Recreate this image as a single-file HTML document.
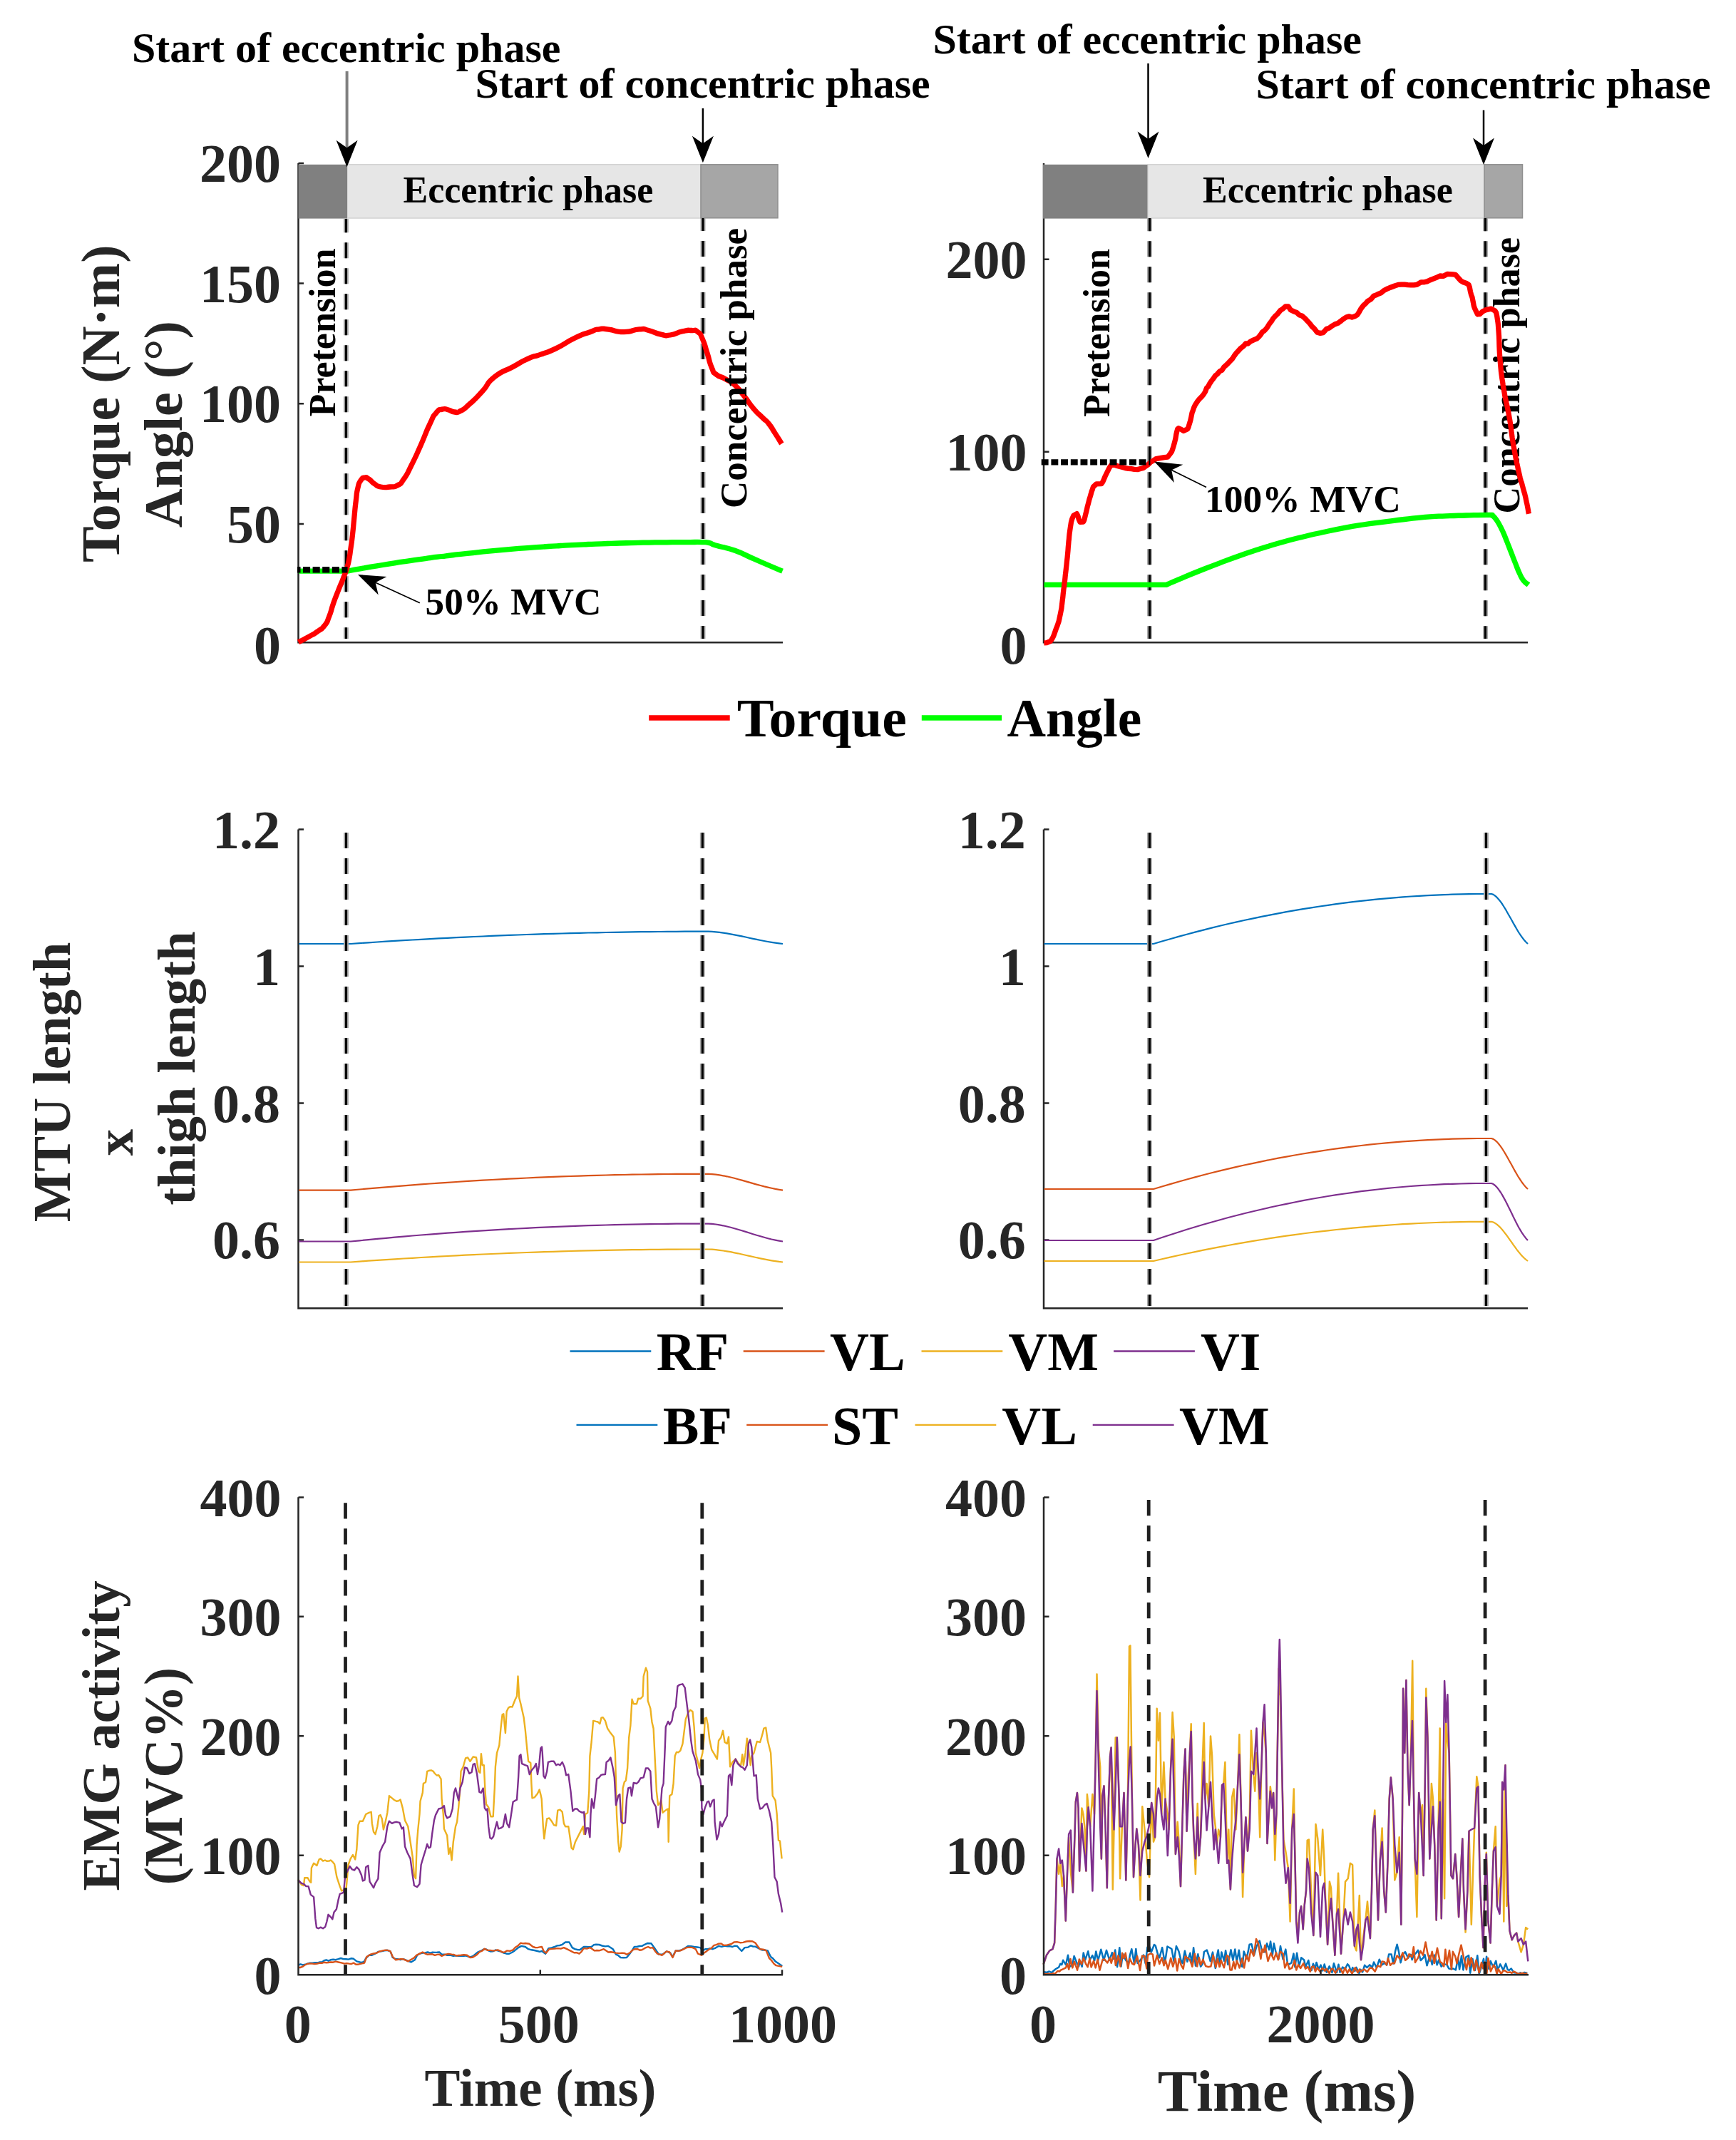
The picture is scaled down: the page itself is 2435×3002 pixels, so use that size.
<!DOCTYPE html>
<html lang="en"><head><meta charset="utf-8"><title>Figure</title>
<style>html,body{margin:0;padding:0;background:#fff}svg{display:block}</style></head>
<body>
<svg width="2435" height="3002" viewBox="0 0 2435 3002" font-family="'Liberation Serif','Times New Roman',serif" font-weight="bold">
<rect width="2435" height="3002" fill="#fff"/>
<rect x="487" y="230.8" width="496" height="75.2" fill="#e6e6e6" stroke="#d2d2d2" stroke-width="1.5"/>
<rect x="983" y="230.8" width="108" height="75" fill="#a6a6a6" stroke="#8f8f8f" stroke-width="1.5"/>
<path d="M418.5,228.9 V901.3 H1098" fill="none" stroke="#262626" stroke-width="2.5"/>
<path d="M418.5,735.0 h7.5 M418.5,566.3 h7.5 M418.5,397.6 h7.5 M418.5,228.89999999999998 h7.5 " fill="none" stroke="#262626" stroke-width="2.5"/>
<rect x="418.5" y="230.8" width="68.5" height="75.8" fill="#808080"/>
<text x="394" y="761.0" font-size="76" text-anchor="end" fill="#262626">50</text>
<text x="394" y="592.3" font-size="76" text-anchor="end" fill="#262626">100</text>
<text x="394" y="423.6" font-size="76" text-anchor="end" fill="#262626">150</text>
<text x="394" y="254.9" font-size="76" text-anchor="end" fill="#262626">200</text>
<text x="394" y="930.5" font-size="76" text-anchor="end" fill="#262626">0</text>
<line x1="485.4" y1="307" x2="485.4" y2="896" stroke="#ababab" stroke-width="6.9" stroke-dasharray="22 14" stroke-dashoffset="2.7"/>
<line x1="485.4" y1="307" x2="485.4" y2="896" stroke="#000" stroke-width="3.1" stroke-dasharray="22 14" stroke-dashoffset="2.7"/>
<line x1="986" y1="306" x2="986" y2="896" stroke="#ababab" stroke-width="6.9" stroke-dasharray="22 14" stroke-dashoffset="4.0"/>
<line x1="986" y1="306" x2="986" y2="896" stroke="#000" stroke-width="3.1" stroke-dasharray="22 14" stroke-dashoffset="4.0"/>
<path d="M419.0,801.2 L487.0,801.2 L487.0,801.2 C491.4,800.4 494.7,799.7 503.6,798.2 C512.5,796.6 511.3,796.8 520.2,795.2 C529.1,793.7 527.9,793.9 536.8,792.5 C545.7,791.0 544.5,791.2 553.4,789.8 C562.3,788.4 561.1,788.6 570.0,787.3 C578.9,786.0 577.7,786.1 586.6,784.9 C595.5,783.6 594.3,783.8 603.2,782.6 C612.1,781.4 610.9,781.6 619.8,780.5 C628.7,779.4 627.5,779.5 636.4,778.5 C645.3,777.4 644.1,777.5 653.0,776.6 C661.9,775.6 660.7,775.7 669.6,774.8 C678.5,773.9 677.3,774.0 686.2,773.1 C695.1,772.3 693.9,772.4 702.8,771.6 C711.7,770.8 710.5,770.9 719.4,770.1 C728.3,769.4 727.1,769.5 736.0,768.8 C744.9,768.1 743.7,768.2 752.6,767.6 C761.5,767.0 760.3,767.1 769.2,766.5 C778.1,765.9 776.9,766.0 785.8,765.5 C794.7,765.0 793.5,765.0 802.4,764.6 C811.3,764.1 810.1,764.2 819.0,763.8 C827.9,763.4 826.7,763.4 835.6,763.1 C844.5,762.8 843.3,762.8 852.2,762.5 C861.1,762.2 859.9,762.2 868.8,762.0 C877.7,761.7 876.5,761.8 885.4,761.6 C894.3,761.3 893.1,761.4 902.0,761.2 C910.9,761.0 909.7,761.1 918.6,760.9 C927.5,760.8 926.3,760.8 935.2,760.8 C944.1,760.7 942.9,760.7 951.8,760.6 C960.7,760.6 959.5,760.6 968.4,760.6 C977.3,760.5 977.9,760.3 985.0,760.6 C992.1,760.8 989.7,760.3 995.0,761.6 C1000.3,762.8 995.3,762.4 1004.8,765.3 C1014.3,768.1 1017.0,767.4 1030.8,772.3 C1044.6,777.2 1044.4,778.4 1056.7,783.7 C1069.0,789.1 1066.1,787.8 1077.0,792.5 C1087.9,797.1 1092.0,798.9 1097.5,801.2" fill="none" stroke="#00ff00" stroke-width="7.3" stroke-linejoin="round"/>
<path d="M418.5,900.8 C423.6,898.2 424.6,898.0 433.7,892.9 C442.8,887.8 438.5,890.9 445.8,885.6 C453.1,880.3 450.2,884.0 455.5,877.1 C460.8,870.2 457.7,874.7 461.6,865.0 C465.5,855.3 463.5,858.5 467.1,848.0 C470.7,837.5 469.1,842.3 472.5,833.4 C475.9,824.5 474.1,829.3 477.4,821.2 C480.7,813.1 479.3,817.2 482.3,809.1 C485.3,801.0 484.1,805.0 486.5,796.9 C488.9,788.8 487.8,794.1 489.6,784.8 C491.4,775.5 490.4,780.3 492.0,769.0 C493.6,757.7 492.8,765.0 494.4,750.8 C496.0,736.6 495.2,742.7 496.8,726.5 C498.4,710.3 497.6,716.0 499.3,702.2 C501.0,688.4 499.6,694.3 501.8,685.0 C504.0,675.7 502.6,679.3 505.8,674.3 C509.1,669.3 507.6,670.7 511.5,670.0 C515.3,669.3 512.9,669.3 517.5,672.2 C522.1,675.1 519.8,675.1 525.3,678.7 C530.8,682.3 526.7,681.5 533.9,683.0 C541.1,684.4 539.0,683.7 546.9,683.0 C554.8,682.3 551.2,684.4 557.7,680.8 C564.2,677.2 559.8,681.5 566.3,672.2 C572.8,662.8 569.2,668.6 577.1,652.7 C585.0,636.9 581.4,644.1 590.1,624.7 C598.7,605.2 595.8,609.5 603.1,594.4 C610.3,579.3 605.9,586.1 611.7,579.3 C617.5,572.5 614.6,575.5 620.3,574.1 C626.1,572.7 623.2,573.7 629.0,575.0 C634.7,576.3 631.9,577.6 637.6,578.0 C643.4,578.4 639.1,580.2 646.3,576.3 C653.5,572.4 649.1,575.4 659.2,566.3 C669.3,557.3 665.0,561.6 676.5,549.0 C688.0,536.5 679.4,540.3 693.8,528.7 C708.2,517.2 703.9,523.1 719.7,514.5 C735.5,505.8 728.3,508.6 741.3,502.8 C754.3,497.1 745.6,502.0 758.6,497.2 C771.5,492.5 764.3,496.2 780.2,488.6 C796.0,480.9 790.3,481.9 806.1,474.3 C821.9,466.7 816.2,469.8 827.7,465.7 C839.2,461.5 832.0,462.9 840.7,461.8 C849.3,460.6 842.1,460.9 853.6,462.2 C865.1,463.5 860.8,465.8 875.2,465.7 C889.6,465.5 885.3,462.5 896.8,461.8 C908.3,461.1 899.7,461.1 909.8,463.5 C919.9,466.0 917.0,467.0 927.1,469.1 C937.1,471.3 929.9,471.4 940.0,470.0 C950.1,468.5 947.2,467.0 957.3,464.8 C967.4,462.6 963.1,463.2 970.3,463.5 C977.5,463.8 973.9,461.6 978.9,465.7 C983.9,469.7 981.1,465.8 985.4,475.6 C989.7,485.4 987.5,481.7 991.9,495.0 C996.2,508.4 994.0,505.7 998.3,515.8 C1002.7,525.9 998.3,520.0 1004.8,525.3 C1011.3,530.6 1009.2,526.7 1017.8,531.8 C1026.4,536.8 1022.1,532.5 1030.8,540.4 C1039.4,548.3 1035.1,544.7 1043.7,555.5 C1052.4,566.3 1048.0,562.7 1056.7,572.8 C1065.3,582.9 1062.4,578.6 1069.6,585.8 C1076.8,593.0 1072.5,587.2 1078.3,594.4 C1084.0,601.6 1080.9,598.0 1086.9,607.4 C1093.0,616.7 1093.3,617.5 1096.4,622.5" fill="none" stroke="#ff0000" stroke-width="7.3" stroke-linejoin="round"/>
<line x1="417" y1="799.2" x2="487.5" y2="799.2" stroke="#000" stroke-width="8.6" stroke-dasharray="10.1 3.5" stroke-dashoffset="5.6"/>
<text x="565.5" y="284" font-size="52" text-anchor="start" fill="#000">Eccentric phase</text>
<text x="469.5" y="584.5" font-size="52" text-anchor="start" fill="#000" transform="rotate(-90 469.5 584.5)">Pretension</text>
<text x="1046.5" y="713" font-size="53" text-anchor="start" fill="#000" transform="rotate(-90 1046.5 713)">Concentric phase</text>
<line x1="588.8" y1="845.7" x2="520.2" y2="814.3" stroke="#000" stroke-width="1.8"/>
<path d="M502.0,806.0 L542.4,809.1 L526.6,817.2 L530.7,834.5 Z" fill="#000"/>
<text x="596.6" y="862" font-size="53.2" text-anchor="start" fill="#000">50% MVC</text>
<text x="185" y="86.5" font-size="60" text-anchor="start" fill="#000">Start of eccentric phase</text>
<text x="666.5" y="137.2" font-size="60" text-anchor="start" fill="#000">Start of concentric phase</text>
<line x1="486.6" y1="100" x2="486.6" y2="214.3" stroke="#808080" stroke-width="4"/>
<path d="M486.6,234.3 L471.6,196.8 L486.6,207.3 L501.6,196.8 Z" fill="#000"/>
<line x1="985.9" y1="152" x2="985.9" y2="208.2" stroke="#000" stroke-width="2.5"/>
<path d="M985.9,228.2 L970.9,190.7 L985.9,201.2 L1000.9,190.7 Z" fill="#000"/>
<text x="167" y="566.3" font-size="76" text-anchor="middle" fill="#262626" transform="rotate(-90 167 566.3)">Torque (N·m)</text>
<text x="255.3" y="595.2" font-size="76" text-anchor="middle" fill="#262626" transform="rotate(-90 255.3 595.2)">Angle (°)</text>
<rect x="1610" y="230.8" width="472" height="75.2" fill="#e6e6e6" stroke="#d2d2d2" stroke-width="1.5"/>
<rect x="2082" y="230.8" width="53.5" height="75" fill="#a6a6a6" stroke="#8f8f8f" stroke-width="1.5"/>
<path d="M1464,228.9 V901.3 H2143" fill="none" stroke="#262626" stroke-width="2.5"/>
<path d="M1464,633.8 h7.5 M1464,363.79999999999995 h7.5 " fill="none" stroke="#262626" stroke-width="2.5"/>
<rect x="1463" y="230.8" width="146.5" height="75.8" fill="#808080"/>
<text x="1440.4" y="659.8" font-size="76" text-anchor="end" fill="#262626">100</text>
<text x="1440.4" y="389.8" font-size="76" text-anchor="end" fill="#262626">200</text>
<text x="1440.4" y="930.5" font-size="76" text-anchor="end" fill="#262626">0</text>
<line x1="1612.5" y1="306" x2="1612.5" y2="896" stroke="#ababab" stroke-width="6.9" stroke-dasharray="22 14" stroke-dashoffset="3.8"/>
<line x1="1612.5" y1="306" x2="1612.5" y2="896" stroke="#000" stroke-width="3.1" stroke-dasharray="22 14" stroke-dashoffset="3.8"/>
<line x1="2083.5" y1="306" x2="2083.5" y2="896" stroke="#ababab" stroke-width="6.9" stroke-dasharray="22 14" stroke-dashoffset="3.8"/>
<line x1="2083.5" y1="306" x2="2083.5" y2="896" stroke="#000" stroke-width="3.1" stroke-dasharray="22 14" stroke-dashoffset="3.8"/>
<text x="1687" y="284" font-size="52" text-anchor="start" fill="#000">Eccentric phase</text>
<text x="1555.5" y="585" font-size="52" text-anchor="start" fill="#000" transform="rotate(-90 1555.5 585)">Pretension</text>
<text x="2130.7" y="720.5" font-size="52.3" text-anchor="start" fill="#000" transform="rotate(-90 2130.7 720.5)">Concentric phase</text>
<path d="M1464.5,820.3 L1636.0,820.3 L1636.0,820.3 C1640.6,818.3 1640.9,817.9 1653.2,812.8 C1665.5,807.7 1666.6,807.1 1682.0,801.0 C1697.4,794.9 1695.4,795.6 1710.8,789.8 C1726.2,784.0 1724.2,784.6 1739.6,779.2 C1755.0,773.8 1753.1,774.5 1768.4,769.6 C1783.7,764.7 1781.6,765.3 1797.0,761.0 C1812.4,756.7 1810.5,757.3 1826.0,753.5 C1841.5,749.7 1839.6,750.2 1855.0,746.8 C1870.4,743.4 1868.4,743.7 1883.6,740.8 C1898.8,737.9 1896.6,738.3 1912.0,736.0 C1927.4,733.7 1925.7,734.2 1941.2,732.2 C1956.7,730.2 1954.6,730.3 1970.0,728.5 C1985.4,726.7 1983.3,726.6 1998.8,725.3 C2014.3,724.0 2012.6,724.4 2028.0,723.8 C2043.4,723.2 2040.5,723.4 2056.5,723.0 C2072.5,722.6 2078.3,722.3 2088.0,722.4 C2097.7,722.5 2090.7,722.4 2093.0,723.5 C2095.3,724.6 2094.4,723.6 2096.8,726.4 C2099.2,729.2 2098.9,728.6 2102.0,734.0 C2105.1,739.4 2105.1,739.5 2108.3,746.6 C2111.5,753.7 2110.9,752.8 2114.0,760.5 C2117.1,768.2 2116.7,767.5 2119.8,775.4 C2122.9,783.3 2122.4,782.3 2125.5,790.0 C2128.6,797.7 2128.2,797.7 2131.3,804.2 C2134.4,810.7 2133.6,810.2 2137.0,814.5 C2140.4,818.8 2142.1,818.8 2144.0,820.3" fill="none" stroke="#00ff00" stroke-width="7.3" stroke-linejoin="round"/>
<path d="M1464.3,901.9 L1468.3,901.6 L1473.5,899.4 L1476.3,895.2 L1478.0,891.6 L1480.4,884.7 L1481.9,880.6 L1483.0,878.0 L1484.1,874.6 L1485.1,871.7 L1486.1,867.1 L1487.3,861.4 L1488.2,857.1 L1488.9,853.5 L1489.4,849.2 L1489.8,845.8 L1490.2,842.4 L1490.7,838.6 L1491.2,833.3 L1491.9,827.1 L1492.5,822.9 L1493.0,817.8 L1493.5,815.0 L1493.9,811.1 L1494.2,807.7 L1494.6,804.4 L1495.0,801.0 L1495.4,797.5 L1496.0,792.1 L1496.5,787.0 L1497.1,781.8 L1497.6,776.6 L1498.0,772.2 L1498.3,767.5 L1498.7,763.4 L1499.0,759.6 L1499.4,756.3 L1499.7,752.3 L1500.1,748.4 L1500.6,744.9 L1501.2,740.8 L1502.5,732.4 L1503.5,728.7 L1504.4,726.4 L1505.8,723.3 L1510.4,720.7 L1512.0,724.0 L1513.3,728.8 L1515.0,732.4 L1519.6,732.0 L1520.8,729.4 L1521.9,724.9 L1522.8,721.2 L1523.9,717.0 L1525.1,711.4 L1526.5,706.3 L1527.9,700.6 L1529.1,696.8 L1530.2,693.1 L1531.1,689.6 L1532.2,686.8 L1533.4,683.0 L1538.0,678.8 L1544.9,678.7 L1547.0,675.6 L1548.6,671.8 L1550.2,668.0 L1552.4,663.5 L1555.2,657.8 L1557.2,654.3 L1559.9,651.1 L1566.8,653.5 L1571.7,654.8 L1578.3,656.6 L1582.9,657.4 L1587.0,657.7 L1591.0,658.3 L1595.6,658.6 L1600.6,657.3 L1603.7,656.4 L1607.1,654.1 L1611.0,651.2 L1614.1,648.2 L1617.4,646.3 L1621.5,643.7 L1627.2,642.7 L1633.1,641.6 L1637.9,641.1 L1641.7,636.1 L1643.6,633.4 L1644.8,630.0 L1645.9,626.5 L1647.5,620.7 L1648.8,615.7 L1649.8,609.4 L1650.7,605.5 L1651.7,601.9 L1653.2,600.7 L1656.7,602.3 L1660.1,604.6 L1665.9,601.7 L1667.1,598.8 L1668.1,595.3 L1669.1,592.2 L1670.1,588.6 L1671.1,583.6 L1672.1,578.8 L1673.3,575.8 L1674.7,571.6 L1676.3,568.2 L1679.5,563.3 L1681.9,560.1 L1684.4,557.7 L1687.8,553.9 L1690.5,549.6 L1692.6,544.0 L1694.5,542.5 L1696.6,538.3 L1699.3,534.4 L1702.5,530.2 L1704.8,526.9 L1707.2,525.0 L1710.8,520.9 L1714.0,519.2 L1716.6,515.2 L1719.0,512.9 L1721.7,510.5 L1725.2,506.7 L1728.7,503.1 L1731.3,499.0 L1733.6,495.8 L1736.2,493.0 L1739.6,489.2 L1744.0,485.7 L1747.3,482.0 L1750.5,482.0 L1754.0,479.0 L1758.4,476.9 L1762.7,475.2 L1765.6,472.6 L1768.1,469.7 L1770.6,465.8 L1773.5,463.9 L1777.1,459.9 L1780.6,454.2 L1783.3,450.8 L1785.7,446.8 L1788.3,443.8 L1791.5,440.9 L1796.0,435.4 L1799.0,433.5 L1803.0,430.0 L1807.2,430.0 L1810.3,434.7 L1814.5,436.8 L1818.8,438.4 L1822.2,441.7 L1826.0,442.9 L1830.6,446.8 L1834.7,451.2 L1837.8,454.7 L1840.2,458.0 L1843.3,460.8 L1847.6,466.2 L1852.0,467.5 L1856.0,466.7 L1860.6,461.5 L1864.5,460.1 L1867.8,457.6 L1872.1,455.0 L1876.5,453.4 L1879.8,451.1 L1883.6,448.0 L1888.2,445.0 L1892.3,443.8 L1896.3,445.1 L1900.9,443.5 L1903.9,441.6 L1906.2,438.0 L1908.8,433.2 L1912.4,428.5 L1915.6,425.6 L1918.2,422.6 L1920.6,421.2 L1923.3,419.4 L1926.8,415.2 L1931.0,413.6 L1934.0,412.1 L1937.1,410.8 L1941.2,407.5 L1946.5,404.8 L1950.4,403.2 L1955.6,401.3 L1961.2,399.4 L1965.4,399.2 L1970.0,399.1 L1974.4,399.7 L1978.7,399.8 L1983.2,399.8 L1987.3,399.4 L1993.1,395.9 L1997.9,395.8 L2001.7,394.9 L2005.6,393.0 L2010.4,391.2 L2016.0,388.8 L2019.8,387.0 L2024.8,387.3 L2030.0,384.5 L2033.9,384.6 L2038.0,384.9 L2041.6,385.3 L2044.9,389.2 L2049.0,393.8 L2052.9,396.1 L2056.5,397.2 L2060.0,399.3 L2061.3,403.0 L2062.4,408.8 L2063.5,413.2 L2065.0,417.1 L2066.4,424.3 L2067.3,429.1 L2068.3,432.2 L2069.8,435.3 L2072.5,441.0 L2075.7,440.6 L2079.5,437.0 L2083.6,434.9 L2091.4,433.1 L2097.0,436.0 L2098.7,438.7 L2099.8,443.9 L2100.4,448.2 L2100.9,451.4 L2101.3,454.5 L2101.7,459.6 L2102.2,466.9 L2102.5,471.4 L2102.7,475.9 L2102.8,479.4 L2102.9,483.4 L2103.0,486.9 L2103.2,491.7 L2103.4,495.6 L2103.7,500.7 L2104.2,506.5 L2104.7,512.4 L2105.1,516.6 L2105.5,521.1 L2105.9,524.3 L2106.4,527.8 L2106.9,531.5 L2107.5,535.0 L2108.2,540.1 L2109.1,545.4 L2110.0,550.3 L2110.8,555.4 L2111.5,558.5 L2112.3,562.2 L2113.0,565.6 L2113.7,568.6 L2114.4,571.7 L2115.2,575.7 L2116.1,580.0 L2117.0,585.3 L2117.9,590.2 L2118.7,595.3 L2119.2,599.0 L2119.7,602.6 L2120.1,606.6 L2120.6,610.0 L2121.1,614.0 L2121.9,618.9 L2122.8,624.6 L2123.7,629.3 L2124.5,633.9 L2125.2,637.7 L2125.9,641.3 L2126.6,644.9 L2127.2,648.0 L2128.0,651.4 L2128.8,655.0 L2129.7,659.4 L2130.7,663.7 L2132.1,669.9 L2133.3,674.5 L2134.4,677.4 L2135.3,680.9 L2136.3,684.6 L2137.3,688.4 L2138.6,692.6 L2139.9,698.0 L2140.9,703.1 L2141.8,706.9 L2142.6,710.9 L2143.2,714.1 L2143.8,717.7 L2144.4,720.7" fill="none" stroke="#ff0000" stroke-width="7.3" stroke-linejoin="round"/>
<line x1="1460.7" y1="648.4" x2="1613.4" y2="648.4" stroke="#000" stroke-width="8.4" stroke-dasharray="9.9 3.8"/>
<line x1="1692.0" y1="683.5" x2="1636.9" y2="656.3" stroke="#000" stroke-width="1.8"/>
<path d="M1619.0,647.5 L1659.3,651.8 L1643.2,659.4 L1646.9,676.9 Z" fill="#000"/>
<text x="1690" y="717.9" font-size="53.5" text-anchor="start" fill="#000">100% MVC</text>
<text x="1308.5" y="74.5" font-size="60" text-anchor="start" fill="#000">Start of eccentric phase</text>
<text x="1761.5" y="138" font-size="60" text-anchor="start" fill="#000">Start of concentric phase</text>
<line x1="1610.5" y1="89" x2="1610.5" y2="202" stroke="#000" stroke-width="2.5"/>
<path d="M1610.5,222 L1595.5,184.5 L1610.5,195 L1625.5,184.5 Z" fill="#000"/>
<line x1="2081" y1="154.5" x2="2081" y2="211" stroke="#000" stroke-width="2.5"/>
<path d="M2081,231 L2066,193.5 L2081,204 L2096,193.5 Z" fill="#000"/>
<line x1="910.2" y1="1007" x2="1023.7" y2="1007" stroke="#ff0000" stroke-width="7.3"/>
<text x="1033.8" y="1032.6" font-size="76" text-anchor="start" fill="#000" textLength="238" lengthAdjust="spacingAndGlyphs">Torque</text>
<line x1="1292.8" y1="1007" x2="1405.1" y2="1007" stroke="#00ff00" stroke-width="7.3"/>
<text x="1412.5" y="1032.6" font-size="75.5" text-anchor="start" fill="#000">Angle</text>
<path d="M418.5,1163.6 V1835.2 H1098" fill="none" stroke="#262626" stroke-width="2.5"/>
<path d="M418.5,1739.42 h7.5 M418.5,1547.4799999999998 h7.5 M418.5,1355.54 h7.5 M418.5,1163.6 h7.5 " fill="none" stroke="#262626" stroke-width="2.5"/>
<text x="393" y="1765.4" font-size="76" text-anchor="end" fill="#262626">0.6</text>
<text x="393" y="1573.5" font-size="76" text-anchor="end" fill="#262626">0.8</text>
<text x="393" y="1381.5" font-size="76" text-anchor="end" fill="#262626">1</text>
<text x="393" y="1189.6" font-size="76" text-anchor="end" fill="#262626">1.2</text>
<path d="M419.0,1324.0 L492.0,1324.0 L504.3,1323.1 L516.7,1322.3 L529.0,1321.5 L541.4,1320.7 L553.7,1319.9 L566.0,1319.2 L578.4,1318.5 L590.7,1317.8 L603.0,1317.1 L615.4,1316.4 L627.7,1315.8 L640.0,1315.2 L652.4,1314.6 L664.7,1314.0 L677.1,1313.5 L689.4,1312.9 L701.7,1312.4 L714.1,1311.9 L726.4,1311.5 L738.8,1311.0 L751.1,1310.6 L763.4,1310.2 L775.8,1309.8 L788.1,1309.5 L800.4,1309.1 L812.8,1308.8 L825.1,1308.5 L837.5,1308.3 L849.8,1308.0 L862.1,1307.8 L874.5,1307.6 L886.8,1307.4 L899.1,1307.2 L911.5,1307.1 L923.8,1307.0 L936.2,1306.9 L948.5,1306.8 L960.8,1306.7 L973.2,1306.7 L985.5,1306.7 L993.5,1306.7 L998.7,1306.9 L1004.0,1307.3 L1009.2,1307.9 L1014.4,1308.6 L1019.6,1309.4 L1024.8,1310.3 L1030.1,1311.3 L1035.3,1312.3 L1040.5,1313.4 L1045.8,1314.5 L1051.0,1315.7 L1056.2,1316.8 L1061.4,1317.9 L1066.7,1319.0 L1071.9,1320.0 L1077.1,1321.0 L1082.3,1321.9 L1087.5,1322.7 L1092.8,1323.4 L1098.0,1324.0" fill="none" stroke="#0072bd" stroke-width="2.2" stroke-linejoin="round"/>
<path d="M419.0,1669.6 L492.0,1669.6 L504.3,1668.5 L516.7,1667.4 L529.0,1666.3 L541.4,1665.3 L553.7,1664.3 L566.0,1663.3 L578.4,1662.3 L590.7,1661.4 L603.0,1660.5 L615.4,1659.6 L627.7,1658.8 L640.0,1658.0 L652.4,1657.2 L664.7,1656.4 L677.1,1655.7 L689.4,1655.0 L701.7,1654.3 L714.1,1653.7 L726.4,1653.1 L738.8,1652.5 L751.1,1651.9 L763.4,1651.4 L775.8,1650.9 L788.1,1650.4 L800.4,1650.0 L812.8,1649.6 L825.1,1649.2 L837.5,1648.9 L849.8,1648.5 L862.1,1648.2 L874.5,1648.0 L886.8,1647.7 L899.1,1647.5 L911.5,1647.3 L923.8,1647.2 L936.2,1647.0 L948.5,1646.9 L960.8,1646.9 L973.2,1646.8 L985.5,1646.8 L993.5,1646.8 L998.7,1647.1 L1004.0,1647.7 L1009.2,1648.4 L1014.4,1649.3 L1019.6,1650.3 L1024.8,1651.5 L1030.1,1652.8 L1035.3,1654.2 L1040.5,1655.6 L1045.8,1657.1 L1051.0,1658.6 L1056.2,1660.1 L1061.4,1661.6 L1066.7,1663.0 L1071.9,1664.4 L1077.1,1665.6 L1082.3,1666.8 L1087.5,1667.9 L1092.8,1668.8 L1098.0,1669.6" fill="none" stroke="#d95319" stroke-width="2.2" stroke-linejoin="round"/>
<path d="M419.0,1741.5 L492.0,1741.5 L504.3,1740.3 L516.7,1739.1 L529.0,1737.9 L541.4,1736.8 L553.7,1735.7 L566.0,1734.6 L578.4,1733.5 L590.7,1732.5 L603.0,1731.6 L615.4,1730.6 L627.7,1729.7 L640.0,1728.8 L652.4,1727.9 L664.7,1727.1 L677.1,1726.3 L689.4,1725.6 L701.7,1724.8 L714.1,1724.1 L726.4,1723.5 L738.8,1722.8 L751.1,1722.2 L763.4,1721.6 L775.8,1721.1 L788.1,1720.6 L800.4,1720.1 L812.8,1719.7 L825.1,1719.2 L837.5,1718.8 L849.8,1718.5 L862.1,1718.2 L874.5,1717.9 L886.8,1717.6 L899.1,1717.4 L911.5,1717.2 L923.8,1717.0 L936.2,1716.8 L948.5,1716.7 L960.8,1716.7 L973.2,1716.6 L985.5,1716.6 L993.5,1716.6 L998.7,1716.9 L1004.0,1717.5 L1009.2,1718.3 L1014.4,1719.3 L1019.6,1720.5 L1024.8,1721.8 L1030.1,1723.2 L1035.3,1724.7 L1040.5,1726.3 L1045.8,1727.9 L1051.0,1729.5 L1056.2,1731.2 L1061.4,1732.8 L1066.7,1734.3 L1071.9,1735.8 L1077.1,1737.2 L1082.3,1738.5 L1087.5,1739.6 L1092.8,1740.6 L1098.0,1741.5" fill="none" stroke="#7e2f8e" stroke-width="2.2" stroke-linejoin="round"/>
<path d="M419.0,1770.5 L492.0,1770.5 L504.3,1769.6 L516.7,1768.7 L529.0,1767.9 L541.4,1767.1 L553.7,1766.3 L566.0,1765.5 L578.4,1764.8 L590.7,1764.0 L603.0,1763.3 L615.4,1762.6 L627.7,1762.0 L640.0,1761.3 L652.4,1760.7 L664.7,1760.1 L677.1,1759.5 L689.4,1759.0 L701.7,1758.5 L714.1,1757.9 L726.4,1757.5 L738.8,1757.0 L751.1,1756.6 L763.4,1756.1 L775.8,1755.8 L788.1,1755.4 L800.4,1755.0 L812.8,1754.7 L825.1,1754.4 L837.5,1754.1 L849.8,1753.9 L862.1,1753.6 L874.5,1753.4 L886.8,1753.2 L899.1,1753.1 L911.5,1752.9 L923.8,1752.8 L936.2,1752.7 L948.5,1752.6 L960.8,1752.5 L973.2,1752.5 L985.5,1752.5 L993.5,1752.5 L998.7,1752.7 L1004.0,1753.2 L1009.2,1753.8 L1014.4,1754.5 L1019.6,1755.3 L1024.8,1756.2 L1030.1,1757.3 L1035.3,1758.3 L1040.5,1759.5 L1045.8,1760.7 L1051.0,1761.8 L1056.2,1763.0 L1061.4,1764.2 L1066.7,1765.3 L1071.9,1766.4 L1077.1,1767.4 L1082.3,1768.3 L1087.5,1769.1 L1092.8,1769.9 L1098.0,1770.5" fill="none" stroke="#edb120" stroke-width="2.2" stroke-linejoin="round"/>
<line x1="485.5" y1="1168.1" x2="485.5" y2="1832" stroke="#ababab" stroke-width="6.9" stroke-dasharray="22 14"/>
<line x1="485.5" y1="1168.1" x2="485.5" y2="1832" stroke="#000" stroke-width="3.1" stroke-dasharray="22 14"/>
<line x1="985.3" y1="1168.1" x2="985.3" y2="1832" stroke="#ababab" stroke-width="6.9" stroke-dasharray="22 14"/>
<line x1="985.3" y1="1168.1" x2="985.3" y2="1832" stroke="#000" stroke-width="3.1" stroke-dasharray="22 14"/>
<path d="M1464,1163.6 V1835.2 H2143" fill="none" stroke="#262626" stroke-width="2.5"/>
<path d="M1464,1739.42 h7.5 M1464,1547.4799999999998 h7.5 M1464,1355.54 h7.5 M1464,1163.6 h7.5 " fill="none" stroke="#262626" stroke-width="2.5"/>
<text x="1438.7" y="1765.4" font-size="76" text-anchor="end" fill="#262626">0.6</text>
<text x="1438.7" y="1573.5" font-size="76" text-anchor="end" fill="#262626">0.8</text>
<text x="1438.7" y="1381.5" font-size="76" text-anchor="end" fill="#262626">1</text>
<text x="1438.7" y="1189.6" font-size="76" text-anchor="end" fill="#262626">1.2</text>
<path d="M1464.5,1324.0 L1618.0,1324.0 L1629.7,1320.5 L1641.3,1317.2 L1653.0,1313.9 L1664.6,1310.7 L1676.2,1307.6 L1687.9,1304.6 L1699.5,1301.6 L1711.2,1298.8 L1722.8,1296.0 L1734.5,1293.4 L1746.2,1290.8 L1757.8,1288.3 L1769.5,1285.9 L1781.1,1283.6 L1792.8,1281.3 L1804.4,1279.2 L1816.0,1277.1 L1827.7,1275.2 L1839.3,1273.3 L1851.0,1271.5 L1862.7,1269.8 L1874.3,1268.2 L1886.0,1266.6 L1897.6,1265.2 L1909.2,1263.8 L1920.9,1262.6 L1932.5,1261.4 L1944.2,1260.3 L1955.8,1259.3 L1967.5,1258.4 L1979.2,1257.5 L1990.8,1256.8 L2002.5,1256.1 L2014.1,1255.6 L2025.8,1255.1 L2037.4,1254.7 L2049.1,1254.4 L2060.7,1254.2 L2072.3,1254.0 L2084.0,1254.0 L2092.0,1254.0 L2094.6,1254.9 L2097.1,1256.6 L2099.7,1258.9 L2102.2,1261.7 L2104.8,1264.9 L2107.3,1268.5 L2109.8,1272.5 L2112.4,1276.7 L2114.9,1281.2 L2117.5,1285.7 L2120.1,1290.3 L2122.6,1294.9 L2125.2,1299.4 L2127.7,1303.8 L2130.2,1308.0 L2132.8,1311.8 L2135.3,1315.4 L2137.9,1318.7 L2140.4,1321.5 L2143.0,1324.0" fill="none" stroke="#0072bd" stroke-width="2.2" stroke-linejoin="round"/>
<path d="M1464.5,1668.0 L1618.0,1668.0 L1629.7,1664.5 L1641.3,1661.1 L1653.0,1657.7 L1664.6,1654.5 L1676.2,1651.4 L1687.9,1648.3 L1699.5,1645.3 L1711.2,1642.4 L1722.8,1639.6 L1734.5,1636.9 L1746.2,1634.3 L1757.8,1631.8 L1769.5,1629.3 L1781.1,1627.0 L1792.8,1624.7 L1804.4,1622.6 L1816.0,1620.5 L1827.7,1618.5 L1839.3,1616.6 L1851.0,1614.8 L1862.7,1613.0 L1874.3,1611.4 L1886.0,1609.8 L1897.6,1608.4 L1909.2,1607.0 L1920.9,1605.7 L1932.5,1604.5 L1944.2,1603.4 L1955.8,1602.4 L1967.5,1601.4 L1979.2,1600.6 L1990.8,1599.8 L2002.5,1599.2 L2014.1,1598.6 L2025.8,1598.1 L2037.4,1597.7 L2049.1,1597.4 L2060.7,1597.2 L2072.3,1597.0 L2084.0,1597.0 L2092.0,1597.0 L2094.6,1597.9 L2097.1,1599.6 L2099.7,1601.9 L2102.2,1604.8 L2104.8,1608.1 L2107.3,1611.7 L2109.8,1615.8 L2112.4,1620.1 L2114.9,1624.5 L2117.5,1629.2 L2120.1,1633.8 L2122.6,1638.5 L2125.2,1643.1 L2127.7,1647.5 L2130.2,1651.7 L2132.8,1655.7 L2135.3,1659.3 L2137.9,1662.6 L2140.4,1665.5 L2143.0,1668.0" fill="none" stroke="#d95319" stroke-width="2.2" stroke-linejoin="round"/>
<path d="M1464.5,1740.0 L1618.0,1740.0 L1629.7,1736.0 L1641.3,1732.2 L1653.0,1728.5 L1664.6,1724.8 L1676.2,1721.2 L1687.9,1717.8 L1699.5,1714.5 L1711.2,1711.2 L1722.8,1708.0 L1734.5,1705.0 L1746.2,1702.0 L1757.8,1699.2 L1769.5,1696.5 L1781.1,1693.8 L1792.8,1691.2 L1804.4,1688.8 L1816.0,1686.5 L1827.7,1684.2 L1839.3,1682.0 L1851.0,1680.0 L1862.7,1678.0 L1874.3,1676.2 L1886.0,1674.5 L1897.6,1672.8 L1909.2,1671.2 L1920.9,1669.8 L1932.5,1668.5 L1944.2,1667.2 L1955.8,1666.0 L1967.5,1665.0 L1979.2,1664.0 L1990.8,1663.2 L2002.5,1662.5 L2014.1,1661.8 L2025.8,1661.2 L2037.4,1660.8 L2049.1,1660.5 L2060.7,1660.2 L2072.3,1660.0 L2084.0,1660.0 L2092.0,1660.0 L2094.6,1661.1 L2097.1,1663.0 L2099.7,1665.6 L2102.2,1668.8 L2104.8,1672.5 L2107.3,1676.6 L2109.8,1681.1 L2112.4,1686.0 L2114.9,1691.0 L2117.5,1696.2 L2120.1,1701.5 L2122.6,1706.8 L2125.2,1711.9 L2127.7,1716.9 L2130.2,1721.7 L2132.8,1726.1 L2135.3,1730.2 L2137.9,1733.9 L2140.4,1737.2 L2143.0,1740.0" fill="none" stroke="#7e2f8e" stroke-width="2.2" stroke-linejoin="round"/>
<path d="M1464.5,1769.0 L1618.0,1769.0 L1629.7,1766.3 L1641.3,1763.6 L1653.0,1761.0 L1664.6,1758.5 L1676.2,1756.1 L1687.9,1753.7 L1699.5,1751.4 L1711.2,1749.1 L1722.8,1747.0 L1734.5,1744.8 L1746.2,1742.8 L1757.8,1740.8 L1769.5,1739.0 L1781.1,1737.1 L1792.8,1735.4 L1804.4,1733.7 L1816.0,1732.1 L1827.7,1730.5 L1839.3,1729.0 L1851.0,1727.6 L1862.7,1726.3 L1874.3,1725.0 L1886.0,1723.8 L1897.6,1722.6 L1909.2,1721.6 L1920.9,1720.6 L1932.5,1719.6 L1944.2,1718.8 L1955.8,1718.0 L1967.5,1717.2 L1979.2,1716.6 L1990.8,1716.0 L2002.5,1715.5 L2014.1,1715.0 L2025.8,1714.7 L2037.4,1714.4 L2049.1,1714.1 L2060.7,1713.9 L2072.3,1713.8 L2084.0,1713.8 L2092.0,1713.8 L2094.6,1714.5 L2097.1,1715.9 L2099.7,1717.6 L2102.2,1719.8 L2104.8,1722.4 L2107.3,1725.3 L2109.8,1728.4 L2112.4,1731.7 L2114.9,1735.2 L2117.5,1738.8 L2120.1,1742.4 L2122.6,1746.1 L2125.2,1749.6 L2127.7,1753.1 L2130.2,1756.3 L2132.8,1759.4 L2135.3,1762.2 L2137.9,1764.8 L2140.4,1767.0 L2143.0,1769.0" fill="none" stroke="#edb120" stroke-width="2.2" stroke-linejoin="round"/>
<line x1="1612.4" y1="1168.1" x2="1612.4" y2="1832" stroke="#ababab" stroke-width="6.9" stroke-dasharray="22 14"/>
<line x1="1612.4" y1="1168.1" x2="1612.4" y2="1832" stroke="#000" stroke-width="3.1" stroke-dasharray="22 14"/>
<line x1="2084.5" y1="1168.1" x2="2084.5" y2="1832" stroke="#ababab" stroke-width="6.9" stroke-dasharray="22 14"/>
<line x1="2084.5" y1="1168.1" x2="2084.5" y2="1832" stroke="#000" stroke-width="3.1" stroke-dasharray="22 14"/>
<text x="97.7" y="1518" font-size="74.8" text-anchor="middle" fill="#262626" transform="rotate(-90 97.7 1518)">MTU length</text>
<text x="185.8" y="1602.5" font-size="74.8" text-anchor="middle" fill="#262626" transform="rotate(-90 185.8 1602.5)">x</text>
<text x="272.8" y="1498.6" font-size="74.8" text-anchor="middle" fill="#262626" transform="rotate(-90 272.8 1498.6)">thigh length</text>
<line x1="799.5" y1="1895.5" x2="913.3" y2="1895.5" stroke="#0072bd" stroke-width="2.4"/>
<text x="920.8" y="1922.3" font-size="76" text-anchor="start" fill="#000">RF</text>
<line x1="1042.7" y1="1895.5" x2="1156.6" y2="1895.5" stroke="#d95319" stroke-width="2.4"/>
<text x="1164" y="1922.3" font-size="76" text-anchor="start" fill="#000">VL</text>
<line x1="1292.5" y1="1895.5" x2="1406.3" y2="1895.5" stroke="#edb120" stroke-width="2.4"/>
<text x="1414.3" y="1922.3" font-size="76" text-anchor="start" fill="#000">VM</text>
<line x1="1562.1" y1="1895.5" x2="1675.9" y2="1895.5" stroke="#7e2f8e" stroke-width="2.4"/>
<text x="1683.9" y="1922.3" font-size="76" text-anchor="start" fill="#000">VI</text>
<line x1="808.5" y1="1998.9" x2="922.3" y2="1998.9" stroke="#0072bd" stroke-width="2.4"/>
<text x="929.8" y="2025.5" font-size="76" text-anchor="start" fill="#000">BF</text>
<line x1="1047.2" y1="1998.9" x2="1161.1" y2="1998.9" stroke="#d95319" stroke-width="2.4"/>
<text x="1166.9" y="2025.5" font-size="76" text-anchor="start" fill="#000">ST</text>
<line x1="1283.5" y1="1998.9" x2="1397.3" y2="1998.9" stroke="#edb120" stroke-width="2.4"/>
<text x="1405.3" y="2025.5" font-size="76" text-anchor="start" fill="#000">VL</text>
<line x1="1532.7" y1="1998.9" x2="1646.6" y2="1998.9" stroke="#7e2f8e" stroke-width="2.4"/>
<text x="1654" y="2025.5" font-size="76" text-anchor="start" fill="#000">VM</text>
<path d="M418.2,2756.8 L421.5,2755.4 L424.8,2756.5 L428.2,2755.8 L431.5,2754.6 L434.9,2753.6 L438.4,2753.8 L441.8,2753.2 L445.3,2753.3 L448.7,2752.5 L451.7,2752.5 L454.7,2750.2 L457.7,2749.4 L460.7,2750.7 L463.8,2749.3 L467.3,2748.7 L470.9,2749.2 L474.5,2748.2 L478.1,2747.0 L481.7,2748.1 L485.3,2748.2 L488.8,2748.6 L492.4,2747.3 L496.0,2747.8 L500.3,2751.4 L504.6,2752.5 L507.8,2753.0 L511.1,2751.4 L513.2,2747.1 L517.5,2742.8 L521.8,2742.7 L526.1,2740.7 L530.4,2737.9 L534.7,2737.4 L539.0,2736.4 L543.3,2735.8 L547.6,2737.4 L550.8,2746.0 L555.1,2748.2 L558.4,2748.3 L561.6,2749.2 L564.8,2748.2 L568.0,2749.0 L571.3,2750.3 L576.6,2752.5 L582.0,2749.3 L585.2,2742.8 L589.0,2740.5 L592.8,2739.6 L596.3,2739.4 L599.9,2738.5 L603.5,2739.6 L606.7,2738.7 L610.0,2738.9 L613.2,2738.8 L616.4,2738.5 L619.6,2741.7 L623.4,2741.6 L627.2,2742.8 L631.5,2742.7 L635.8,2743.9 L639.3,2743.2 L642.9,2743.8 L646.5,2743.9 L650.1,2743.7 L653.7,2743.5 L657.3,2745.0 L660.5,2745.2 L663.7,2743.9 L666.9,2741.3 L670.2,2738.5 L674.5,2736.7 L678.8,2734.2 L682.0,2734.5 L685.2,2736.4 L688.4,2737.5 L691.7,2737.2 L694.9,2735.5 L698.1,2736.4 L702.4,2737.6 L706.7,2739.6 L710.5,2740.7 L714.2,2740.7 L718.0,2739.0 L721.8,2736.4 L727.1,2732.1 L731.4,2729.9 L736.8,2731.0 L741.1,2734.2 L745.4,2735.3 L749.7,2736.0 L754.0,2737.0 L757.0,2737.8 L760.0,2737.0 L765.1,2740.7 L769.4,2733.1 L773.7,2732.5 L778.0,2731.0 L781.5,2729.4 L785.1,2729.0 L788.7,2727.8 L793.0,2724.5 L798.4,2724.5 L802.7,2732.1 L806.3,2734.1 L809.8,2735.0 L813.4,2735.3 L818.8,2731.0 L822.4,2731.0 L826.0,2731.2 L829.6,2731.0 L832.8,2728.3 L836.0,2727.8 L840.3,2728.0 L844.6,2729.5 L848.9,2730.4 L853.2,2729.9 L856.4,2731.9 L859.7,2734.2 L864.0,2741.7 L867.2,2743.1 L870.4,2746.0 L874.7,2746.2 L879.0,2746.0 L883.3,2740.7 L886.5,2736.3 L889.8,2731.0 L893.3,2731.0 L896.9,2730.0 L900.5,2729.9 L904.3,2727.8 L908.0,2726.0 L913.4,2726.3 L917.7,2732.1 L920.9,2736.9 L924.2,2741.7 L929.5,2741.7 L934.9,2737.4 L940.3,2739.6 L943.5,2745.0 L947.8,2736.4 L952.1,2736.5 L956.4,2735.3 L960.7,2732.7 L965.0,2729.9 L969.3,2730.2 L973.6,2731.0 L977.9,2731.5 L982.2,2732.1 L985.4,2736.4 L989.2,2734.2 L993.0,2734.2 L996.2,2733.1 L999.4,2734.2 L1003.7,2732.6 L1008.0,2729.9 L1012.3,2730.9 L1016.6,2729.5 L1020.2,2730.2 L1023.8,2730.2 L1027.4,2731.0 L1030.6,2729.7 L1033.8,2729.9 L1037.0,2733.5 L1040.3,2737.0 L1044.6,2732.1 L1048.9,2731.8 L1053.2,2729.3 L1056.4,2730.6 L1059.6,2730.6 L1062.8,2732.5 L1066.1,2734.2 L1069.3,2735.6 L1072.5,2735.3 L1076.8,2736.4 L1081.1,2745.0 L1084.3,2747.5 L1087.6,2751.4 L1090.8,2753.6 L1094.0,2755.7 L1097.2,2757.9" fill="none" stroke="#0072bd" stroke-width="2.4" stroke-linejoin="round"/>
<path d="M418.2,2760.0 L421.2,2760.0 L424.2,2758.9 L427.2,2756.8 L430.8,2755.0 L434.4,2754.4 L438.0,2754.6 L441.5,2755.1 L445.1,2754.5 L448.7,2753.6 L451.7,2753.8 L454.7,2752.7 L457.7,2753.2 L460.7,2753.0 L463.8,2752.5 L467.3,2752.7 L470.9,2751.7 L474.5,2752.5 L478.8,2753.4 L483.1,2754.6 L486.3,2754.1 L489.6,2754.6 L492.8,2755.0 L496.0,2753.6 L499.2,2755.7 L502.5,2755.7 L506.8,2754.7 L511.1,2753.6 L514.3,2745.0 L519.7,2741.7 L524.0,2740.5 L528.3,2739.6 L532.6,2737.4 L536.9,2736.4 L540.4,2735.6 L544.0,2735.9 L547.6,2737.4 L550.8,2745.0 L555.1,2749.3 L558.4,2748.8 L561.6,2748.1 L564.8,2748.2 L568.6,2749.5 L572.3,2751.4 L577.7,2748.2 L580.9,2746.4 L584.2,2742.8 L588.5,2740.7 L592.8,2738.5 L596.0,2740.3 L599.2,2741.7 L602.8,2741.5 L606.4,2741.3 L610.0,2742.8 L613.2,2741.9 L616.4,2741.7 L619.6,2743.9 L625.0,2741.7 L629.3,2740.9 L633.6,2741.7 L636.8,2742.0 L640.1,2743.5 L643.3,2743.0 L646.5,2742.8 L650.8,2742.1 L655.1,2742.8 L659.4,2746.0 L662.6,2745.9 L665.9,2743.9 L669.1,2741.9 L672.3,2738.5 L676.1,2736.7 L679.8,2733.8 L683.6,2735.8 L687.4,2735.9 L690.9,2736.4 L694.5,2736.2 L698.1,2735.3 L701.3,2736.6 L704.6,2738.5 L707.8,2738.6 L711.0,2736.4 L715.3,2736.9 L719.6,2735.3 L722.8,2731.8 L726.1,2729.9 L730.4,2725.6 L733.6,2726.4 L736.8,2726.0 L742.2,2726.7 L747.6,2731.0 L750.8,2732.0 L754.0,2732.1 L757.0,2731.4 L760.0,2731.0 L762.9,2737.4 L766.1,2739.6 L770.4,2734.2 L774.4,2733.9 L778.3,2733.5 L782.3,2733.1 L786.6,2733.6 L790.9,2732.1 L795.2,2734.2 L798.4,2735.8 L801.6,2737.4 L805.2,2739.3 L808.8,2739.2 L812.4,2740.7 L815.6,2737.8 L818.8,2733.1 L823.1,2733.6 L827.4,2732.1 L830.6,2734.1 L833.9,2736.4 L837.1,2736.0 L840.3,2736.3 L843.5,2735.3 L846.8,2734.2 L850.0,2736.3 L853.2,2738.5 L856.8,2738.2 L860.4,2738.8 L864.0,2739.6 L868.3,2740.1 L872.6,2739.6 L875.8,2739.9 L879.0,2741.7 L883.3,2739.5 L887.6,2735.3 L890.8,2734.2 L894.1,2734.2 L897.3,2735.7 L900.5,2735.3 L904.8,2732.7 L909.1,2731.0 L912.3,2732.6 L915.6,2732.1 L918.8,2736.9 L922.0,2740.7 L925.2,2741.7 L928.5,2742.8 L931.7,2740.2 L934.9,2737.4 L939.2,2738.5 L943.5,2746.0 L947.8,2736.4 L951.0,2736.7 L954.3,2736.4 L958.6,2734.4 L962.9,2732.1 L967.2,2731.6 L971.5,2732.1 L975.8,2734.2 L979.0,2740.7 L984.4,2742.8 L987.6,2739.4 L990.8,2737.4 L994.4,2734.6 L998.0,2732.7 L1001.6,2728.8 L1004.8,2728.1 L1008.0,2726.7 L1011.6,2726.4 L1015.2,2728.9 L1018.8,2728.8 L1022.3,2727.9 L1025.9,2727.0 L1029.5,2724.5 L1033.8,2724.1 L1038.1,2725.2 L1042.4,2724.9 L1046.7,2723.5 L1051.0,2723.0 L1055.3,2723.3 L1059.6,2725.6 L1062.8,2730.3 L1066.1,2734.2 L1070.4,2734.7 L1074.7,2736.4 L1079.0,2747.1 L1082.2,2750.2 L1085.4,2754.6 L1088.6,2757.2 L1091.9,2757.9 L1097.2,2758.9" fill="none" stroke="#d95319" stroke-width="2.4" stroke-linejoin="round"/>
<path d="M418.2,2636.4 L422.9,2643.9 L426.1,2645.0 L427.2,2634.2 L431.5,2634.2 L434.7,2639.6 L436.2,2640.7 L436.9,2620.3 L440.1,2613.8 L444.4,2617.0 L447.6,2608.4 L449.8,2607.4 L453.0,2610.6 L455.9,2609.5 L458.7,2610.8 L461.6,2610.6 L463.8,2609.5 L466.4,2611.7 L469.1,2614.9 L472.4,2633.2 L476.7,2646.1 L479.2,2652.5 L482.0,2651.4 L484.2,2661.1 L486.3,2641.8 L488.5,2616.0 L491.7,2607.4 L494.9,2602.0 L498.2,2608.4 L500.3,2594.5 L502.5,2560.1 L504.6,2554.7 L508.9,2554.7 L513.2,2545.0 L517.5,2542.9 L520.7,2541.8 L521.8,2557.9 L524.0,2569.7 L526.5,2573.0 L529.3,2562.2 L531.5,2547.2 L533.6,2546.1 L535.8,2551.5 L537.9,2566.5 L540.1,2557.9 L543.3,2542.9 L545.9,2519.2 L549.8,2522.4 L553.0,2525.0 L556.2,2526.7 L558.9,2526.2 L561.6,2524.6 L564.8,2536.4 L568.0,2553.6 L572.3,2562.2 L575.6,2583.7 L578.8,2605.2 L580.9,2631.0 L583.1,2635.3 L584.6,2588.0 L586.3,2566.5 L588.5,2545.0 L589.5,2526.7 L592.8,2514.9 L593.8,2502.0 L597.1,2499.9 L599.2,2484.8 L602.4,2483.7 L604.9,2483.4 L607.4,2484.6 L610.0,2488.0 L612.6,2490.5 L615.3,2490.2 L618.6,2495.6 L619.6,2523.5 L621.8,2545.0 L622.9,2565.4 L627.2,2575.1 L629.3,2600.9 L631.5,2592.3 L633.6,2609.5 L635.8,2583.7 L639.0,2562.2 L641.1,2555.8 L643.3,2534.3 L645.4,2508.5 L646.5,2484.8 L649.7,2478.4 L653.0,2466.5 L656.2,2465.5 L659.4,2470.8 L663.7,2464.4 L668.0,2465.5 L671.2,2484.8 L673.4,2487.0 L674.9,2460.1 L676.6,2476.2 L678.8,2476.2 L680.5,2512.8 L682.0,2531.0 L685.2,2535.3 L688.4,2548.2 L691.7,2548.2 L693.8,2508.5 L694.9,2478.4 L697.0,2459.0 L700.3,2448.3 L702.4,2424.6 L704.6,2405.3 L706.3,2404.2 L708.9,2431.1 L710.6,2401.0 L713.2,2395.6 L715.8,2394.1 L718.5,2394.5 L722.8,2383.8 L725.0,2379.5 L726.5,2351.5 L728.2,2381.6 L730.4,2390.2 L734.7,2409.6 L736.8,2426.8 L739.0,2450.4 L741.1,2470.8 L744.3,2473.0 L745.4,2502.0 L746.5,2522.4 L749.7,2521.4 L754.0,2516.0 L756.6,2510.6 L758.3,2517.1 L759.7,2523.5 L761.8,2562.2 L763.3,2579.4 L765.5,2562.2 L767.2,2551.5 L770.4,2550.4 L773.7,2554.7 L776.9,2560.1 L780.1,2561.1 L782.3,2539.6 L785.5,2538.6 L788.7,2541.8 L790.9,2557.9 L793.0,2562.2 L797.3,2562.2 L799.5,2577.3 L801.6,2592.3 L803.8,2594.5 L807.0,2583.7 L811.3,2575.1 L815.6,2566.5 L817.7,2562.2 L819.2,2573.0 L821.0,2545.0 L824.2,2542.9 L826.3,2512.8 L827.4,2463.3 L829.6,2444.0 L832.1,2413.9 L836.0,2414.9 L838.7,2415.5 L841.4,2418.2 L843.5,2409.6 L845.7,2409.1 L848.9,2413.9 L852.1,2424.6 L856.4,2431.1 L860.7,2436.4 L862.9,2459.0 L864.0,2502.0 L865.0,2545.0 L867.2,2583.7 L868.7,2597.7 L870.8,2590.2 L872.6,2566.5 L873.6,2508.5 L875.8,2499.9 L877.9,2497.7 L880.1,2480.5 L882.2,2437.5 L884.4,2420.3 L886.5,2383.8 L888.7,2390.2 L893.0,2390.2 L895.1,2382.7 L898.4,2383.0 L901.6,2379.5 L902.7,2351.5 L905.9,2339.7 L908.0,2345.1 L908.7,2385.9 L912.3,2396.7 L914.5,2416.0 L916.6,2424.6 L918.8,2469.8 L920.9,2512.8 L923.1,2532.1 L925.2,2530.0 L927.4,2525.7 L929.5,2542.9 L932.2,2540.6 L934.9,2538.6 L937.1,2537.5 L937.7,2583.7 L939.2,2519.2 L942.4,2517.1 L944.6,2502.0 L946.7,2463.3 L948.9,2457.9 L951.6,2458.2 L954.3,2455.8 L957.5,2446.1 L961.8,2411.7 L965.0,2403.1 L968.2,2398.8 L971.5,2401.0 L973.6,2422.5 L975.8,2459.0 L979.0,2471.9 L981.1,2480.5 L983.3,2467.6 L985.4,2459.0 L987.6,2437.5 L988.7,2410.6 L990.8,2409.6 L993.0,2420.3 L995.1,2439.7 L998.3,2454.7 L1001.6,2460.1 L1005.9,2467.6 L1008.0,2441.8 L1011.2,2437.5 L1014.0,2427.8 L1016.6,2444.0 L1019.8,2446.1 L1022.0,2436.4 L1024.1,2478.4 L1027.4,2471.9 L1031.7,2467.6 L1036.0,2474.1 L1039.2,2476.2 L1041.3,2461.2 L1042.8,2476.2 L1045.6,2459.0 L1047.8,2438.6 L1049.9,2454.7 L1052.7,2476.2 L1054.2,2463.3 L1057.5,2459.0 L1061.8,2442.9 L1066.1,2444.0 L1069.3,2433.2 L1071.4,2424.6 L1074.2,2423.5 L1076.8,2441.8 L1081.1,2459.0 L1082.2,2480.5 L1083.7,2519.2 L1087.6,2525.7 L1089.7,2545.0 L1091.9,2581.6 L1094.0,2582.6 L1096.6,2607.4" fill="none" stroke="#edb120" stroke-width="2.4" stroke-linejoin="round"/>
<path d="M418.2,2637.5 L422.9,2641.8 L426.1,2642.9 L429.4,2646.1 L432.6,2646.1 L435.8,2657.9 L440.1,2661.1 L442.3,2691.2 L444.0,2704.1 L446.6,2705.2 L449.8,2703.6 L453.0,2705.2 L456.2,2703.0 L458.4,2695.5 L460.5,2685.8 L463.8,2689.1 L466.3,2692.3 L468.5,2682.6 L471.9,2678.3 L474.5,2665.4 L476.7,2656.8 L479.9,2655.7 L482.0,2654.7 L484.2,2631.0 L487.4,2624.6 L490.6,2618.1 L493.9,2622.4 L497.1,2623.5 L500.3,2619.2 L503.5,2622.4 L506.8,2629.9 L508.9,2638.5 L511.5,2637.5 L513.2,2619.2 L516.4,2617.0 L518.6,2639.6 L520.7,2642.8 L524.0,2648.2 L526.5,2641.8 L530.4,2635.3 L532.6,2598.8 L536.9,2589.1 L540.1,2583.7 L543.3,2562.2 L545.9,2554.7 L549.8,2557.9 L553.0,2556.4 L556.2,2555.8 L560.5,2556.8 L563.7,2565.4 L565.9,2563.3 L568.0,2590.2 L571.3,2598.8 L575.6,2607.4 L578.8,2631.0 L580.9,2645.0 L585.2,2647.1 L588.5,2642.8 L590.6,2616.0 L593.8,2605.2 L597.1,2594.5 L599.2,2586.9 L601.4,2592.3 L603.9,2591.2 L606.1,2573.0 L608.9,2553.6 L611.0,2546.1 L615.3,2537.5 L619.6,2536.4 L622.9,2533.2 L625.0,2546.1 L627.2,2550.4 L631.5,2548.2 L634.7,2537.5 L636.8,2514.9 L639.0,2508.5 L641.1,2517.1 L643.3,2525.7 L645.4,2508.5 L648.7,2499.9 L651.9,2479.4 L655.1,2480.5 L658.3,2488.0 L661.6,2485.9 L663.7,2475.1 L665.9,2474.1 L669.1,2489.1 L672.3,2513.8 L674.9,2514.9 L677.7,2508.5 L679.8,2536.4 L682.0,2539.6 L683.5,2537.5 L685.2,2562.2 L687.4,2578.3 L689.5,2579.4 L692.1,2576.2 L694.2,2566.5 L697.0,2555.8 L699.2,2565.4 L702.4,2564.4 L705.6,2562.2 L708.9,2545.0 L711.0,2557.9 L714.2,2563.3 L716.4,2549.3 L719.6,2527.8 L722.8,2525.7 L725.0,2524.6 L727.1,2493.4 L728.6,2463.3 L730.4,2461.2 L732.1,2474.1 L736.8,2476.2 L740.0,2477.3 L742.8,2489.1 L745.4,2483.7 L749.7,2478.4 L751.9,2474.1 L754.0,2489.1 L756.2,2476.2 L758.3,2452.6 L760.0,2450.4 L760.8,2459.0 L762.5,2491.3 L764.6,2494.5 L767.2,2484.8 L768.9,2471.9 L772.6,2470.8 L776.9,2470.8 L780.1,2476.2 L782.8,2474.8 L785.5,2476.2 L788.7,2471.9 L791.9,2479.4 L794.1,2490.2 L797.3,2489.1 L800.5,2512.8 L803.3,2540.7 L806.3,2537.5 L809.3,2537.4 L812.4,2540.7 L816.7,2542.9 L819.2,2541.8 L821.0,2573.0 L822.7,2564.4 L825.3,2564.4 L827.4,2577.3 L828.5,2545.0 L830.0,2523.5 L832.8,2536.4 L834.9,2519.2 L837.1,2495.6 L840.3,2493.4 L842.9,2490.2 L845.9,2489.2 L848.9,2489.1 L850.6,2471.9 L853.6,2469.8 L856.4,2465.5 L859.7,2480.5 L861.8,2493.4 L864.0,2532.1 L867.2,2519.2 L869.3,2517.1 L871.5,2555.8 L874.2,2558.0 L876.9,2556.8 L879.0,2523.5 L881.2,2508.5 L884.4,2507.4 L885.9,2519.2 L888.7,2500.9 L893.0,2502.0 L895.7,2499.4 L898.4,2494.5 L902.7,2493.4 L905.9,2480.5 L909.1,2480.5 L912.3,2484.8 L914.5,2523.5 L917.2,2529.9 L919.9,2534.3 L923.1,2563.3 L925.2,2551.5 L927.4,2523.5 L928.5,2508.5 L930.6,2502.0 L932.8,2450.4 L933.8,2422.5 L937.1,2414.9 L939.2,2419.2 L942.4,2413.9 L944.6,2401.0 L947.8,2394.5 L950.4,2365.5 L953.2,2363.3 L957.5,2362.3 L960.7,2367.6 L962.9,2385.9 L966.1,2411.7 L969.3,2441.8 L971.5,2456.9 L975.8,2469.8 L979.0,2489.1 L982.2,2496.6 L983.9,2508.5 L984.4,2536.4 L986.5,2545.0 L988.7,2536.4 L991.9,2527.8 L994.0,2526.7 L996.2,2534.3 L999.4,2525.7 L1001.6,2524.6 L1002.6,2555.8 L1005.4,2580.5 L1008.0,2573.0 L1010.2,2555.8 L1012.7,2562.2 L1015.5,2555.8 L1019.8,2547.2 L1022.0,2491.3 L1024.1,2489.1 L1026.3,2504.2 L1028.4,2476.2 L1031.7,2467.6 L1034.9,2474.1 L1039.2,2478.4 L1041.9,2479.4 L1044.6,2482.7 L1047.8,2476.2 L1049.9,2446.1 L1052.1,2440.7 L1054.2,2450.4 L1057.5,2491.3 L1060.7,2490.2 L1062.8,2523.5 L1066.1,2537.5 L1069.3,2536.4 L1072.5,2532.1 L1075.7,2530.0 L1079.0,2540.7 L1082.2,2555.8 L1084.3,2588.0 L1086.5,2633.2 L1089.7,2639.6 L1091.9,2656.8 L1095.1,2669.7 L1097.2,2682.6" fill="none" stroke="#7e2f8e" stroke-width="2.4" stroke-linejoin="round"/>
<path d="M418.5,2100.3 V2770.3 H1098" fill="none" stroke="#262626" stroke-width="2.5"/>
<path d="M418.5,2602.75 h7.5 M418.5,2435.2999999999997 h7.5 M418.5,2267.85 h7.5 M418.5,2100.3999999999996 h7.5 M757.8,2770.3 v-7 M1097,2770.3 v-7 " fill="none" stroke="#262626" stroke-width="2.5"/>
<text x="394.5" y="2796.7" font-size="76" text-anchor="end" fill="#262626">0</text>
<text x="394.5" y="2629.2" font-size="76" text-anchor="end" fill="#262626">100</text>
<text x="394.5" y="2461.8" font-size="76" text-anchor="end" fill="#262626">200</text>
<text x="394.5" y="2294.3" font-size="76" text-anchor="end" fill="#262626">300</text>
<text x="394.5" y="2126.9" font-size="76" text-anchor="end" fill="#262626">400</text>
<line x1="484.5" y1="2108.2" x2="484.5" y2="2769" stroke="#1f1f1f" stroke-width="4.8" stroke-dasharray="22.3 13.7"/>
<line x1="984.8" y1="2108.2" x2="984.8" y2="2769" stroke="#1f1f1f" stroke-width="4.8" stroke-dasharray="22.3 13.7"/>
<text x="417.8" y="2865" font-size="76" text-anchor="middle" fill="#262626">0</text>
<text x="755.8" y="2865" font-size="76" text-anchor="middle" fill="#262626">500</text>
<text x="1098" y="2865" font-size="76" text-anchor="middle" fill="#262626">1000</text>
<text x="758" y="2954.2" font-size="74.2" text-anchor="middle" fill="#262626" textLength="325" lengthAdjust="spacingAndGlyphs">Time (ms)</text>
<text x="166.8" y="2434.9" font-size="75" text-anchor="middle" fill="#262626" transform="rotate(-90 166.8 2434.9)">EMG activity</text>
<text x="254.7" y="2491.5" font-size="75.3" text-anchor="middle" fill="#262626" transform="rotate(-90 254.7 2491.5)">(MVC%)</text>
<path d="M1464.5,2766.2 L1468.5,2767.0 L1471.7,2765.5 L1475.0,2767.1 L1477.6,2764.8 L1481.0,2762.0 L1485.1,2759.7 L1487.3,2754.8 L1489.3,2756.1 L1491.1,2749.8 L1495.0,2756.1 L1498.0,2742.8 L1500.4,2758.9 L1504.2,2756.2 L1506.6,2744.0 L1510.2,2753.1 L1513.0,2758.7 L1514.8,2751.1 L1517.7,2758.9 L1519.7,2739.4 L1522.1,2749.6 L1526.2,2737.3 L1528.6,2749.4 L1532.3,2743.1 L1535.2,2750.2 L1537.3,2737.4 L1540.1,2750.3 L1544.3,2734.8 L1548.2,2750.0 L1552.0,2735.9 L1556.2,2749.7 L1559.9,2739.1 L1561.8,2748.0 L1564.2,2735.6 L1567.1,2759.2 L1570.3,2732.2 L1572.5,2758.6 L1574.9,2740.9 L1578.9,2749.4 L1582.8,2754.6 L1584.9,2742.8 L1587.3,2734.2 L1591.0,2754.5 L1593.3,2734.0 L1595.6,2754.1 L1598.9,2750.5 L1601.2,2747.1 L1604.0,2742.5 L1606.7,2754.2 L1609.4,2731.8 L1612.8,2731.6 L1614.9,2738.4 L1618.9,2728.0 L1620.7,2729.3 L1624.3,2742.4 L1626.3,2746.2 L1630.2,2732.1 L1633.9,2753.7 L1637.4,2730.6 L1640.2,2732.0 L1643.4,2734.0 L1646.6,2751.5 L1649.9,2730.1 L1653.4,2737.3 L1656.6,2750.4 L1658.6,2754.3 L1661.9,2736.7 L1665.4,2751.9 L1669.4,2739.8 L1671.9,2754.6 L1674.1,2732.2 L1677.0,2757.7 L1680.3,2741.2 L1684.1,2758.7 L1686.8,2754.8 L1688.9,2738.0 L1692.8,2735.5 L1695.2,2742.5 L1697.7,2751.1 L1701.0,2738.6 L1704.8,2761.0 L1706.8,2744.3 L1708.7,2735.5 L1711.2,2758.3 L1713.4,2738.6 L1717.1,2750.9 L1719.1,2736.2 L1722.4,2756.1 L1726.5,2735.2 L1729.4,2749.7 L1732.3,2734.6 L1734.8,2751.7 L1737.8,2735.7 L1740.6,2757.2 L1742.6,2759.0 L1744.7,2737.5 L1748.7,2747.5 L1752.6,2727.8 L1755.5,2727.2 L1759.1,2742.3 L1762.6,2730.0 L1766.7,2722.5 L1770.4,2737.9 L1774.3,2738.3 L1777.1,2726.3 L1780.1,2735.1 L1782.1,2723.4 L1784.7,2743.3 L1786.8,2726.3 L1790.6,2742.9 L1793.6,2747.8 L1796.0,2730.0 L1799.5,2748.3 L1803.3,2734.6 L1806.0,2754.6 L1808.3,2755.4 L1811.4,2753.5 L1814.5,2740.6 L1816.4,2759.3 L1819.1,2739.7 L1822.1,2758.4 L1825.2,2746.3 L1829.2,2749.4 L1831.3,2759.0 L1835.3,2750.0 L1837.5,2762.1 L1839.6,2763.9 L1841.9,2754.7 L1844.5,2761.8 L1846.5,2753.0 L1849.6,2762.5 L1852.6,2756.6 L1855.4,2764.5 L1857.7,2755.5 L1860.8,2766.7 L1864.6,2758.3 L1868.4,2767.1 L1870.9,2754.2 L1875.1,2767.1 L1877.5,2755.7 L1879.5,2766.8 L1883.2,2759.5 L1886.7,2762.1 L1890.1,2755.2 L1892.2,2757.6 L1895.2,2766.1 L1897.2,2760.1 L1900.3,2765.3 L1902.4,2759.8 L1906.3,2768.0 L1908.3,2762.9 L1911.2,2766.4 L1914.1,2756.8 L1917.4,2760.2 L1921.2,2756.3 L1924.8,2759.9 L1927.0,2752.5 L1930.9,2760.4 L1934.8,2748.7 L1938.0,2756.6 L1941.7,2753.9 L1945.3,2756.4 L1948.1,2741.6 L1951.6,2741.5 L1954.3,2754.5 L1957.0,2737.6 L1959.6,2727.7 L1962.0,2737.9 L1964.6,2753.2 L1967.7,2741.5 L1971.0,2738.1 L1975.2,2746.6 L1978.7,2741.9 L1980.7,2749.1 L1982.7,2742.5 L1985.8,2740.3 L1989.0,2735.7 L1992.7,2750.0 L1996.3,2746.4 L1998.5,2742.1 L2001.5,2757.3 L2005.6,2743.5 L2008.8,2756.0 L2012.2,2742.6 L2015.7,2756.4 L2018.1,2749.5 L2021.7,2758.7 L2025.3,2755.1 L2029.4,2756.1 L2032.2,2761.4 L2034.6,2762.1 L2038.1,2761.5 L2041.9,2763.4 L2045.2,2746.3 L2047.1,2762.5 L2050.0,2743.7 L2052.4,2763.4 L2056.1,2745.6 L2060.1,2743.1 L2062.2,2767.7 L2065.5,2748.1 L2069.0,2763.7 L2072.3,2743.3 L2074.7,2769.2 L2078.6,2757.2 L2081.0,2747.8 L2083.1,2763.8 L2085.1,2744.7 L2088.4,2762.0 L2090.7,2750.9 L2094.5,2759.5 L2098.3,2750.8 L2100.6,2763.7 L2104.3,2755.3 L2108.5,2763.7 L2112.1,2754.6 L2114.8,2763.1 L2116.8,2763.9 L2119.7,2761.5 L2123.4,2767.3 L2126.8,2767.4 L2130.3,2769.2 L2132.5,2767.3 L2135.1,2768.5 L2138.3,2767.0 L2142.3,2767.9" fill="none" stroke="#0072bd" stroke-width="2.5" stroke-linejoin="round"/>
<path d="M1464.5,2769.0 L1467.9,2769.3 L1470.6,2768.7 L1474.1,2769.4 L1477.4,2768.3 L1479.6,2769.0 L1483.4,2765.1 L1486.0,2765.6 L1487.9,2763.7 L1490.9,2762.3 L1494.9,2760.4 L1497.1,2755.1 L1499.3,2762.6 L1501.5,2747.9 L1504.3,2760.4 L1507.0,2751.8 L1511.1,2763.7 L1513.8,2748.4 L1517.2,2755.5 L1519.9,2746.7 L1522.9,2754.5 L1525.7,2759.3 L1528.5,2747.5 L1530.6,2759.6 L1534.0,2750.8 L1536.7,2760.4 L1539.6,2748.8 L1542.5,2763.8 L1546.6,2749.0 L1549.3,2748.6 L1553.3,2753.5 L1556.9,2746.6 L1558.7,2753.8 L1562.9,2739.2 L1564.8,2756.9 L1568.6,2743.2 L1571.6,2758.6 L1574.1,2739.8 L1576.2,2747.1 L1578.7,2739.8 L1582.2,2761.1 L1584.7,2747.5 L1588.1,2754.7 L1590.9,2756.0 L1595.1,2744.1 L1599.1,2763.9 L1601.9,2743.8 L1605.6,2743.9 L1608.3,2761.4 L1610.1,2742.4 L1613.8,2740.4 L1616.9,2741.7 L1619.0,2757.4 L1623.0,2742.9 L1626.3,2755.0 L1629.8,2746.3 L1632.5,2757.3 L1634.7,2749.7 L1638.2,2762.2 L1642.2,2746.8 L1645.2,2758.8 L1648.6,2747.2 L1651.2,2764.5 L1653.8,2748.0 L1656.7,2756.6 L1659.7,2761.9 L1662.6,2744.5 L1665.0,2746.2 L1668.8,2748.9 L1672.4,2758.8 L1675.8,2740.8 L1679.2,2758.4 L1681.8,2746.1 L1684.3,2756.2 L1687.4,2748.9 L1691.2,2758.0 L1694.4,2759.2 L1698.4,2758.5 L1701.7,2742.7 L1705.4,2759.4 L1707.8,2747.6 L1710.5,2759.1 L1712.7,2749.9 L1716.9,2760.3 L1720.7,2743.1 L1723.3,2744.7 L1725.5,2763.5 L1727.8,2763.5 L1730.3,2752.0 L1732.5,2761.7 L1734.8,2750.4 L1738.6,2760.5 L1742.1,2747.2 L1745.1,2760.5 L1748.2,2742.8 L1751.5,2751.1 L1754.5,2735.0 L1758.5,2743.7 L1762.0,2720.1 L1764.8,2725.7 L1768.4,2747.9 L1770.4,2734.4 L1772.3,2738.4 L1774.4,2728.8 L1778.5,2751.1 L1782.6,2739.7 L1786.6,2749.1 L1790.2,2739.3 L1792.8,2749.3 L1796.0,2737.6 L1799.7,2740.6 L1802.2,2760.4 L1805.6,2752.7 L1808.6,2762.4 L1812.2,2760.6 L1816.0,2749.8 L1818.3,2763.5 L1821.0,2756.1 L1824.2,2761.0 L1828.3,2754.1 L1831.1,2761.9 L1834.5,2759.0 L1837.7,2765.8 L1840.2,2758.9 L1842.8,2758.6 L1845.0,2765.8 L1847.6,2760.3 L1851.7,2765.9 L1855.0,2760.7 L1858.4,2764.8 L1860.4,2761.7 L1864.6,2768.0 L1867.5,2761.8 L1869.8,2762.3 L1873.1,2767.6 L1877.3,2761.3 L1880.0,2761.4 L1883.5,2768.4 L1886.6,2760.4 L1890.0,2767.8 L1892.6,2762.6 L1896.5,2768.6 L1900.7,2760.4 L1904.5,2767.1 L1906.9,2762.6 L1908.8,2765.9 L1911.0,2763.9 L1913.7,2762.6 L1917.8,2766.2 L1921.6,2760.4 L1924.7,2760.9 L1928.7,2765.6 L1932.4,2757.6 L1936.3,2759.2 L1938.6,2751.4 L1941.9,2752.1 L1944.9,2756.6 L1946.9,2747.1 L1950.1,2756.8 L1953.2,2753.7 L1955.9,2754.4 L1959.6,2743.3 L1963.8,2748.1 L1967.5,2739.4 L1971.1,2749.9 L1974.5,2747.2 L1976.5,2741.2 L1980.6,2745.4 L1982.8,2731.3 L1985.0,2752.9 L1989.1,2746.4 L1992.5,2736.8 L1996.0,2742.6 L1999.6,2724.5 L2002.4,2739.9 L2005.7,2750.7 L2008.7,2737.8 L2011.9,2754.1 L2016.0,2732.7 L2019.9,2752.6 L2021.9,2753.0 L2025.3,2758.5 L2027.4,2734.8 L2029.6,2755.9 L2033.0,2735.9 L2035.9,2762.8 L2037.8,2737.8 L2041.2,2744.3 L2043.5,2754.3 L2046.4,2741.0 L2049.5,2728.6 L2053.1,2746.3 L2057.0,2763.1 L2059.2,2747.6 L2061.3,2758.3 L2063.6,2746.3 L2067.7,2764.2 L2070.6,2749.6 L2074.7,2767.4 L2078.0,2753.0 L2080.2,2761.4 L2082.5,2752.5 L2085.4,2768.2 L2087.4,2747.0 L2090.9,2765.6 L2095.0,2756.6 L2097.2,2759.5 L2099.6,2769.0 L2101.6,2762.2 L2105.7,2769.0 L2108.5,2764.4 L2110.6,2764.3 L2114.4,2767.0 L2118.4,2766.6 L2120.6,2767.8 L2123.4,2765.6 L2126.5,2767.2 L2129.0,2769.0 L2130.9,2768.5 L2133.0,2768.3 L2137.0,2767.9 L2139.1,2769.2 L2142.3,2768.0" fill="none" stroke="#d95319" stroke-width="2.5" stroke-linejoin="round"/>
<path d="M1463.6,2755.7 L1467.9,2742.8 L1472.2,2736.4 L1476.5,2734.2 L1479.1,2725.6 L1480.8,2674.0 L1482.5,2607.4 L1485.1,2628.9 L1487.3,2613.8 L1489.8,2646.1 L1492.0,2631.0 L1494.8,2694.4 L1496.9,2631.0 L1499.1,2577.3 L1501.9,2626.7 L1504.9,2654.7 L1507.7,2566.5 L1508.8,2527.8 L1510.9,2514.9 L1512.6,2536.4 L1514.1,2624.6 L1517.4,2536.4 L1519.5,2545.0 L1521.7,2566.5 L1523.4,2624.6 L1524.9,2517.1 L1526.6,2534.3 L1529.2,2562.2 L1532.4,2517.1 L1535.0,2545.0 L1536.7,2469.8 L1538.5,2348.4 L1541.0,2454.7 L1543.2,2478.4 L1544.9,2607.4 L1546.4,2519.2 L1548.5,2505.2 L1550.7,2566.5 L1552.8,2648.2 L1555.0,2523.5 L1557.1,2463.3 L1558.6,2451.5 L1560.8,2650.4 L1562.5,2566.5 L1564.7,2437.5 L1566.8,2437.5 L1569.0,2502.0 L1571.1,2635.3 L1573.9,2562.2 L1576.5,2514.9 L1579.3,2637.5 L1581.9,2523.5 L1584.0,2309.6 L1585.4,2308.6 L1587.9,2523.5 L1590.0,2633.2 L1592.6,2588.0 L1594.3,2565.4 L1596.9,2588.0 L1599.5,2665.4 L1602.3,2534.3 L1605.5,2566.5 L1608.7,2607.4 L1612.0,2633.2 L1615.2,2528.9 L1618.0,2583.7 L1620.1,2577.3 L1622.7,2396.7 L1624.9,2441.8 L1627.0,2403.1 L1629.2,2545.0 L1632.4,2471.9 L1634.5,2523.5 L1637.8,2545.0 L1639.5,2566.5 L1642.1,2480.5 L1644.6,2402.0 L1646.8,2437.5 L1648.9,2600.9 L1651.7,2555.8 L1653.9,2588.0 L1656.0,2646.1 L1658.2,2566.5 L1660.3,2491.3 L1662.5,2453.6 L1664.6,2568.7 L1666.8,2491.3 L1668.9,2459.0 L1670.7,2418.2 L1672.6,2523.5 L1674.3,2573.0 L1676.9,2628.9 L1679.7,2530.0 L1681.8,2603.1 L1684.0,2577.3 L1686.8,2469.8 L1688.7,2417.1 L1690.4,2523.5 L1692.6,2502.0 L1695.4,2534.3 L1698.0,2435.4 L1700.1,2463.3 L1702.7,2545.0 L1704.8,2562.2 L1707.0,2588.0 L1709.1,2566.5 L1711.9,2577.3 L1714.1,2504.2 L1716.2,2502.0 L1718.4,2471.9 L1721.2,2613.8 L1723.3,2566.5 L1725.9,2650.4 L1728.1,2521.4 L1730.6,2509.5 L1733.4,2566.5 L1736.2,2502.0 L1738.4,2433.2 L1740.5,2523.5 L1743.1,2661.1 L1745.3,2588.0 L1747.4,2549.3 L1750.0,2596.6 L1752.8,2545.0 L1754.9,2427.8 L1758.2,2489.1 L1760.3,2512.8 L1762.5,2459.0 L1764.6,2480.5 L1767.2,2577.3 L1769.3,2480.5 L1771.5,2416.0 L1773.6,2433.2 L1775.8,2459.0 L1777.5,2585.9 L1779.7,2545.0 L1781.8,2506.3 L1784.0,2523.5 L1786.1,2514.9 L1788.3,2609.5 L1790.4,2545.0 L1792.1,2437.5 L1793.6,2340.8 L1794.8,2377.0 L1795.6,2330.0 L1796.1,2405.3 L1798.2,2480.5 L1800.4,2580.5 L1803.6,2598.8 L1806.8,2620.3 L1809.6,2695.5 L1812.2,2566.5 L1814.8,2509.5 L1816.5,2609.5 L1818.2,2695.5 L1820.4,2708.4 L1823.0,2682.6 L1825.1,2674.0 L1827.7,2706.3 L1829.8,2671.9 L1832.0,2652.5 L1833.7,2581.6 L1835.9,2580.5 L1839.1,2652.5 L1842.3,2714.9 L1845.5,2559.0 L1848.3,2579.4 L1852.0,2631.0 L1855.2,2566.5 L1857.4,2609.5 L1859.5,2674.0 L1862.1,2727.8 L1864.9,2639.6 L1867.0,2648.2 L1869.2,2695.5 L1872.4,2742.8 L1875.0,2684.8 L1877.1,2627.8 L1881.0,2740.7 L1884.2,2695.5 L1887.0,2639.6 L1890.7,2635.3 L1893.9,2613.8 L1897.1,2616.0 L1899.9,2729.9 L1902.5,2736.4 L1904.7,2699.8 L1906.8,2659.0 L1909.0,2749.3 L1912.2,2717.0 L1915.4,2693.4 L1918.0,2667.6 L1921.9,2719.2 L1924.0,2652.5 L1925.7,2566.5 L1928.3,2539.6 L1930.9,2631.0 L1933.0,2693.4 L1935.8,2609.5 L1938.6,2564.4 L1941.2,2652.5 L1943.8,2682.6 L1946.6,2609.5 L1948.7,2523.5 L1950.9,2493.4 L1953.7,2523.5 L1956.3,2637.5 L1959.5,2626.7 L1962.7,2577.3 L1965.3,2699.8 L1967.0,2545.0 L1968.1,2368.7 L1970.2,2459.0 L1972.4,2356.9 L1974.5,2480.5 L1976.7,2532.1 L1978.8,2467.6 L1981.2,2329.7 L1983.1,2523.5 L1984.6,2607.4 L1987.4,2689.1 L1990.2,2514.9 L1992.8,2545.0 L1995.0,2532.1 L1996.7,2631.0 L1998.8,2502.0 L2000.3,2368.7 L2002.5,2437.5 L2005.3,2607.4 L2007.9,2502.0 L2010.0,2523.5 L2012.2,2588.0 L2014.7,2693.4 L2017.5,2566.5 L2019.7,2424.6 L2021.8,2691.2 L2024.0,2523.5 L2026.1,2663.3 L2028.3,2416.0 L2030.4,2441.8 L2032.6,2459.0 L2035.4,2631.0 L2038.0,2635.3 L2041.2,2600.9 L2043.3,2631.0 L2046.1,2689.1 L2048.7,2631.0 L2051.3,2579.4 L2053.0,2652.5 L2055.6,2710.6 L2058.4,2652.5 L2060.5,2568.7 L2063.8,2699.8 L2068.1,2564.4 L2071.3,2492.3 L2073.4,2506.3 L2075.6,2631.0 L2078.4,2695.5 L2080.5,2732.1 L2082.7,2641.8 L2084.8,2598.8 L2087.4,2695.5 L2090.6,2725.6 L2092.8,2652.5 L2094.9,2596.6 L2097.7,2562.2 L2099.9,2674.0 L2103.5,2637.5 L2105.7,2631.0 L2107.2,2499.9 L2109.3,2695.5 L2111.5,2476.2 L2113.2,2674.0 L2115.4,2659.0 L2117.5,2708.4 L2120.7,2721.3 L2124.0,2714.9 L2127.2,2711.6 L2129.3,2723.5 L2133.6,2738.5 L2136.9,2727.8 L2140.1,2704.1 L2143.3,2706.3" fill="none" stroke="#edb120" stroke-width="2.5" stroke-linejoin="round"/>
<path d="M1463.6,2755.7 L1467.9,2742.8 L1472.2,2736.4 L1476.5,2734.2 L1479.1,2725.6 L1480.8,2674.0 L1482.5,2607.4 L1485.1,2593.4 L1487.3,2613.8 L1489.8,2609.5 L1492.0,2631.0 L1494.8,2694.4 L1496.9,2631.0 L1499.1,2573.0 L1501.9,2567.6 L1504.9,2654.7 L1507.7,2566.5 L1508.8,2527.8 L1510.9,2514.9 L1512.6,2536.4 L1514.1,2624.6 L1517.4,2557.9 L1519.5,2583.7 L1523.4,2624.6 L1524.9,2566.5 L1526.6,2535.3 L1529.2,2562.2 L1532.4,2652.5 L1535.0,2545.0 L1536.7,2469.8 L1538.5,2372.0 L1541.0,2480.5 L1543.2,2562.2 L1544.9,2607.4 L1546.4,2519.2 L1548.5,2505.2 L1550.7,2566.5 L1552.8,2648.2 L1555.0,2523.5 L1557.1,2463.3 L1558.6,2451.5 L1560.8,2523.5 L1562.5,2566.5 L1564.7,2508.5 L1566.8,2437.5 L1569.0,2502.0 L1571.1,2562.2 L1573.9,2562.2 L1576.5,2514.9 L1579.3,2637.5 L1581.9,2523.5 L1584.0,2469.8 L1585.7,2450.4 L1587.9,2523.5 L1590.0,2633.2 L1592.6,2588.0 L1594.3,2565.4 L1596.9,2588.0 L1599.5,2631.0 L1602.3,2596.6 L1605.5,2583.7 L1608.7,2575.1 L1612.0,2560.1 L1615.2,2528.9 L1618.0,2545.0 L1620.1,2577.3 L1622.7,2523.5 L1624.9,2508.5 L1627.0,2517.1 L1629.2,2545.0 L1632.4,2566.5 L1634.5,2523.5 L1637.8,2603.1 L1639.5,2566.5 L1642.1,2480.5 L1644.6,2439.7 L1646.8,2523.5 L1648.9,2600.9 L1651.7,2577.3 L1653.9,2605.2 L1656.0,2646.1 L1658.2,2566.5 L1660.3,2491.3 L1662.5,2453.6 L1664.6,2568.7 L1666.8,2523.5 L1668.9,2459.0 L1670.7,2428.9 L1672.6,2523.5 L1674.3,2573.0 L1676.9,2607.4 L1679.7,2549.3 L1681.8,2603.1 L1684.0,2577.3 L1686.8,2512.8 L1688.7,2471.9 L1690.4,2523.5 L1692.6,2567.6 L1695.4,2534.3 L1698.0,2499.9 L1700.1,2545.0 L1702.7,2594.5 L1704.8,2566.5 L1707.0,2588.0 L1709.1,2613.8 L1711.9,2577.3 L1714.1,2504.2 L1716.2,2502.0 L1718.4,2545.0 L1721.2,2613.8 L1723.3,2609.5 L1725.9,2650.4 L1728.1,2609.5 L1730.6,2577.3 L1733.4,2553.6 L1736.2,2502.0 L1738.4,2461.2 L1740.5,2523.5 L1743.1,2626.7 L1745.3,2588.0 L1747.4,2549.3 L1750.0,2596.6 L1752.8,2566.5 L1754.9,2484.8 L1758.2,2489.1 L1760.3,2459.0 L1762.5,2424.6 L1764.6,2480.5 L1767.2,2523.5 L1769.3,2480.5 L1771.5,2416.0 L1773.6,2391.3 L1775.8,2459.0 L1777.5,2585.9 L1779.7,2545.0 L1781.8,2512.8 L1784.0,2536.4 L1786.1,2514.9 L1788.3,2573.0 L1790.4,2545.0 L1792.1,2437.5 L1793.6,2340.8 L1794.8,2300.0 L1795.6,2330.0 L1798.2,2480.5 L1800.4,2598.8 L1803.6,2641.8 L1806.8,2620.3 L1809.6,2669.7 L1812.2,2566.5 L1814.8,2545.0 L1816.5,2609.5 L1818.2,2695.5 L1820.4,2725.6 L1823.0,2682.6 L1825.1,2674.0 L1827.7,2706.3 L1829.8,2671.9 L1832.0,2652.5 L1833.7,2607.4 L1835.9,2620.3 L1839.1,2682.6 L1842.3,2714.9 L1845.5,2626.7 L1848.3,2631.0 L1852.0,2717.0 L1855.2,2648.2 L1857.4,2641.8 L1859.5,2674.0 L1862.1,2727.8 L1864.9,2682.6 L1867.0,2663.3 L1869.2,2695.5 L1872.4,2742.8 L1875.0,2684.8 L1877.1,2678.3 L1881.0,2740.7 L1884.2,2695.5 L1887.0,2678.3 L1890.7,2699.8 L1893.9,2682.6 L1897.1,2695.5 L1899.9,2729.9 L1902.5,2706.3 L1904.7,2699.8 L1909.0,2749.3 L1912.2,2727.8 L1915.4,2693.4 L1918.0,2689.1 L1921.9,2719.2 L1924.0,2652.5 L1925.7,2566.5 L1928.3,2547.2 L1930.9,2631.0 L1933.0,2693.4 L1935.8,2609.5 L1938.6,2583.7 L1941.2,2652.5 L1943.8,2682.6 L1946.6,2609.5 L1948.7,2523.5 L1950.9,2493.4 L1953.7,2523.5 L1956.3,2588.0 L1959.5,2626.7 L1962.7,2598.8 L1965.3,2699.8 L1967.0,2545.0 L1968.1,2368.7 L1970.2,2459.0 L1972.4,2356.9 L1974.5,2480.5 L1976.7,2532.1 L1978.8,2467.6 L1981.0,2413.9 L1983.1,2523.5 L1984.6,2607.4 L1987.4,2628.9 L1990.2,2514.9 L1992.8,2545.0 L1996.7,2631.0 L1998.8,2502.0 L2000.3,2381.6 L2002.5,2437.5 L2005.3,2607.4 L2007.9,2566.5 L2010.0,2534.3 L2012.2,2588.0 L2014.7,2693.4 L2017.5,2566.5 L2019.7,2527.8 L2021.8,2691.2 L2024.0,2523.5 L2026.1,2358.0 L2028.3,2416.0 L2030.4,2377.3 L2032.6,2459.0 L2035.4,2631.0 L2038.0,2635.3 L2041.2,2600.9 L2043.3,2631.0 L2046.1,2689.1 L2048.7,2631.0 L2051.3,2579.4 L2053.0,2652.5 L2055.6,2706.3 L2058.4,2652.5 L2060.5,2568.7 L2063.8,2566.5 L2068.1,2564.4 L2071.3,2508.5 L2073.4,2506.3 L2075.6,2631.0 L2078.4,2695.5 L2080.5,2732.1 L2082.7,2641.8 L2084.8,2600.9 L2087.4,2695.5 L2090.6,2725.6 L2092.8,2652.5 L2094.9,2596.6 L2097.7,2591.2 L2099.9,2674.0 L2103.5,2684.8 L2105.7,2631.0 L2107.2,2499.9 L2109.3,2510.6 L2111.5,2476.2 L2113.2,2566.5 L2115.4,2659.0 L2117.5,2708.4 L2120.7,2721.3 L2124.0,2714.9 L2127.2,2711.6 L2129.3,2723.5 L2133.6,2719.2 L2136.9,2727.8 L2140.1,2723.5 L2143.3,2751.4" fill="none" stroke="#7e2f8e" stroke-width="2.5" stroke-linejoin="round"/>
<path d="M1464,2100.3 V2770.3 H2144" fill="none" stroke="#262626" stroke-width="2.5"/>
<path d="M1464,2602.75 h7.5 M1464,2435.2999999999997 h7.5 M1464,2267.85 h7.5 M1464,2100.3999999999996 h7.5 M1852.5,2770.3 v-7 " fill="none" stroke="#262626" stroke-width="2.5"/>
<text x="1440" y="2796.7" font-size="76" text-anchor="end" fill="#262626">0</text>
<text x="1440" y="2629.2" font-size="76" text-anchor="end" fill="#262626">100</text>
<text x="1440" y="2461.8" font-size="76" text-anchor="end" fill="#262626">200</text>
<text x="1440" y="2294.3" font-size="76" text-anchor="end" fill="#262626">300</text>
<text x="1440" y="2126.9" font-size="76" text-anchor="end" fill="#262626">400</text>
<line x1="1611.2" y1="2104" x2="1611.2" y2="2769" stroke="#1f1f1f" stroke-width="4.8" stroke-dasharray="22.3 13.7"/>
<line x1="2083.1" y1="2104" x2="2083.1" y2="2769" stroke="#1f1f1f" stroke-width="4.8" stroke-dasharray="22.3 13.7"/>
<text x="1463" y="2865" font-size="76" text-anchor="middle" fill="#262626">0</text>
<text x="1852.4" y="2865" font-size="76" text-anchor="middle" fill="#262626">2000</text>
<text x="1805" y="2960.6" font-size="83.5" text-anchor="middle" fill="#262626">Time (ms)</text>
</svg>
</body></html>
